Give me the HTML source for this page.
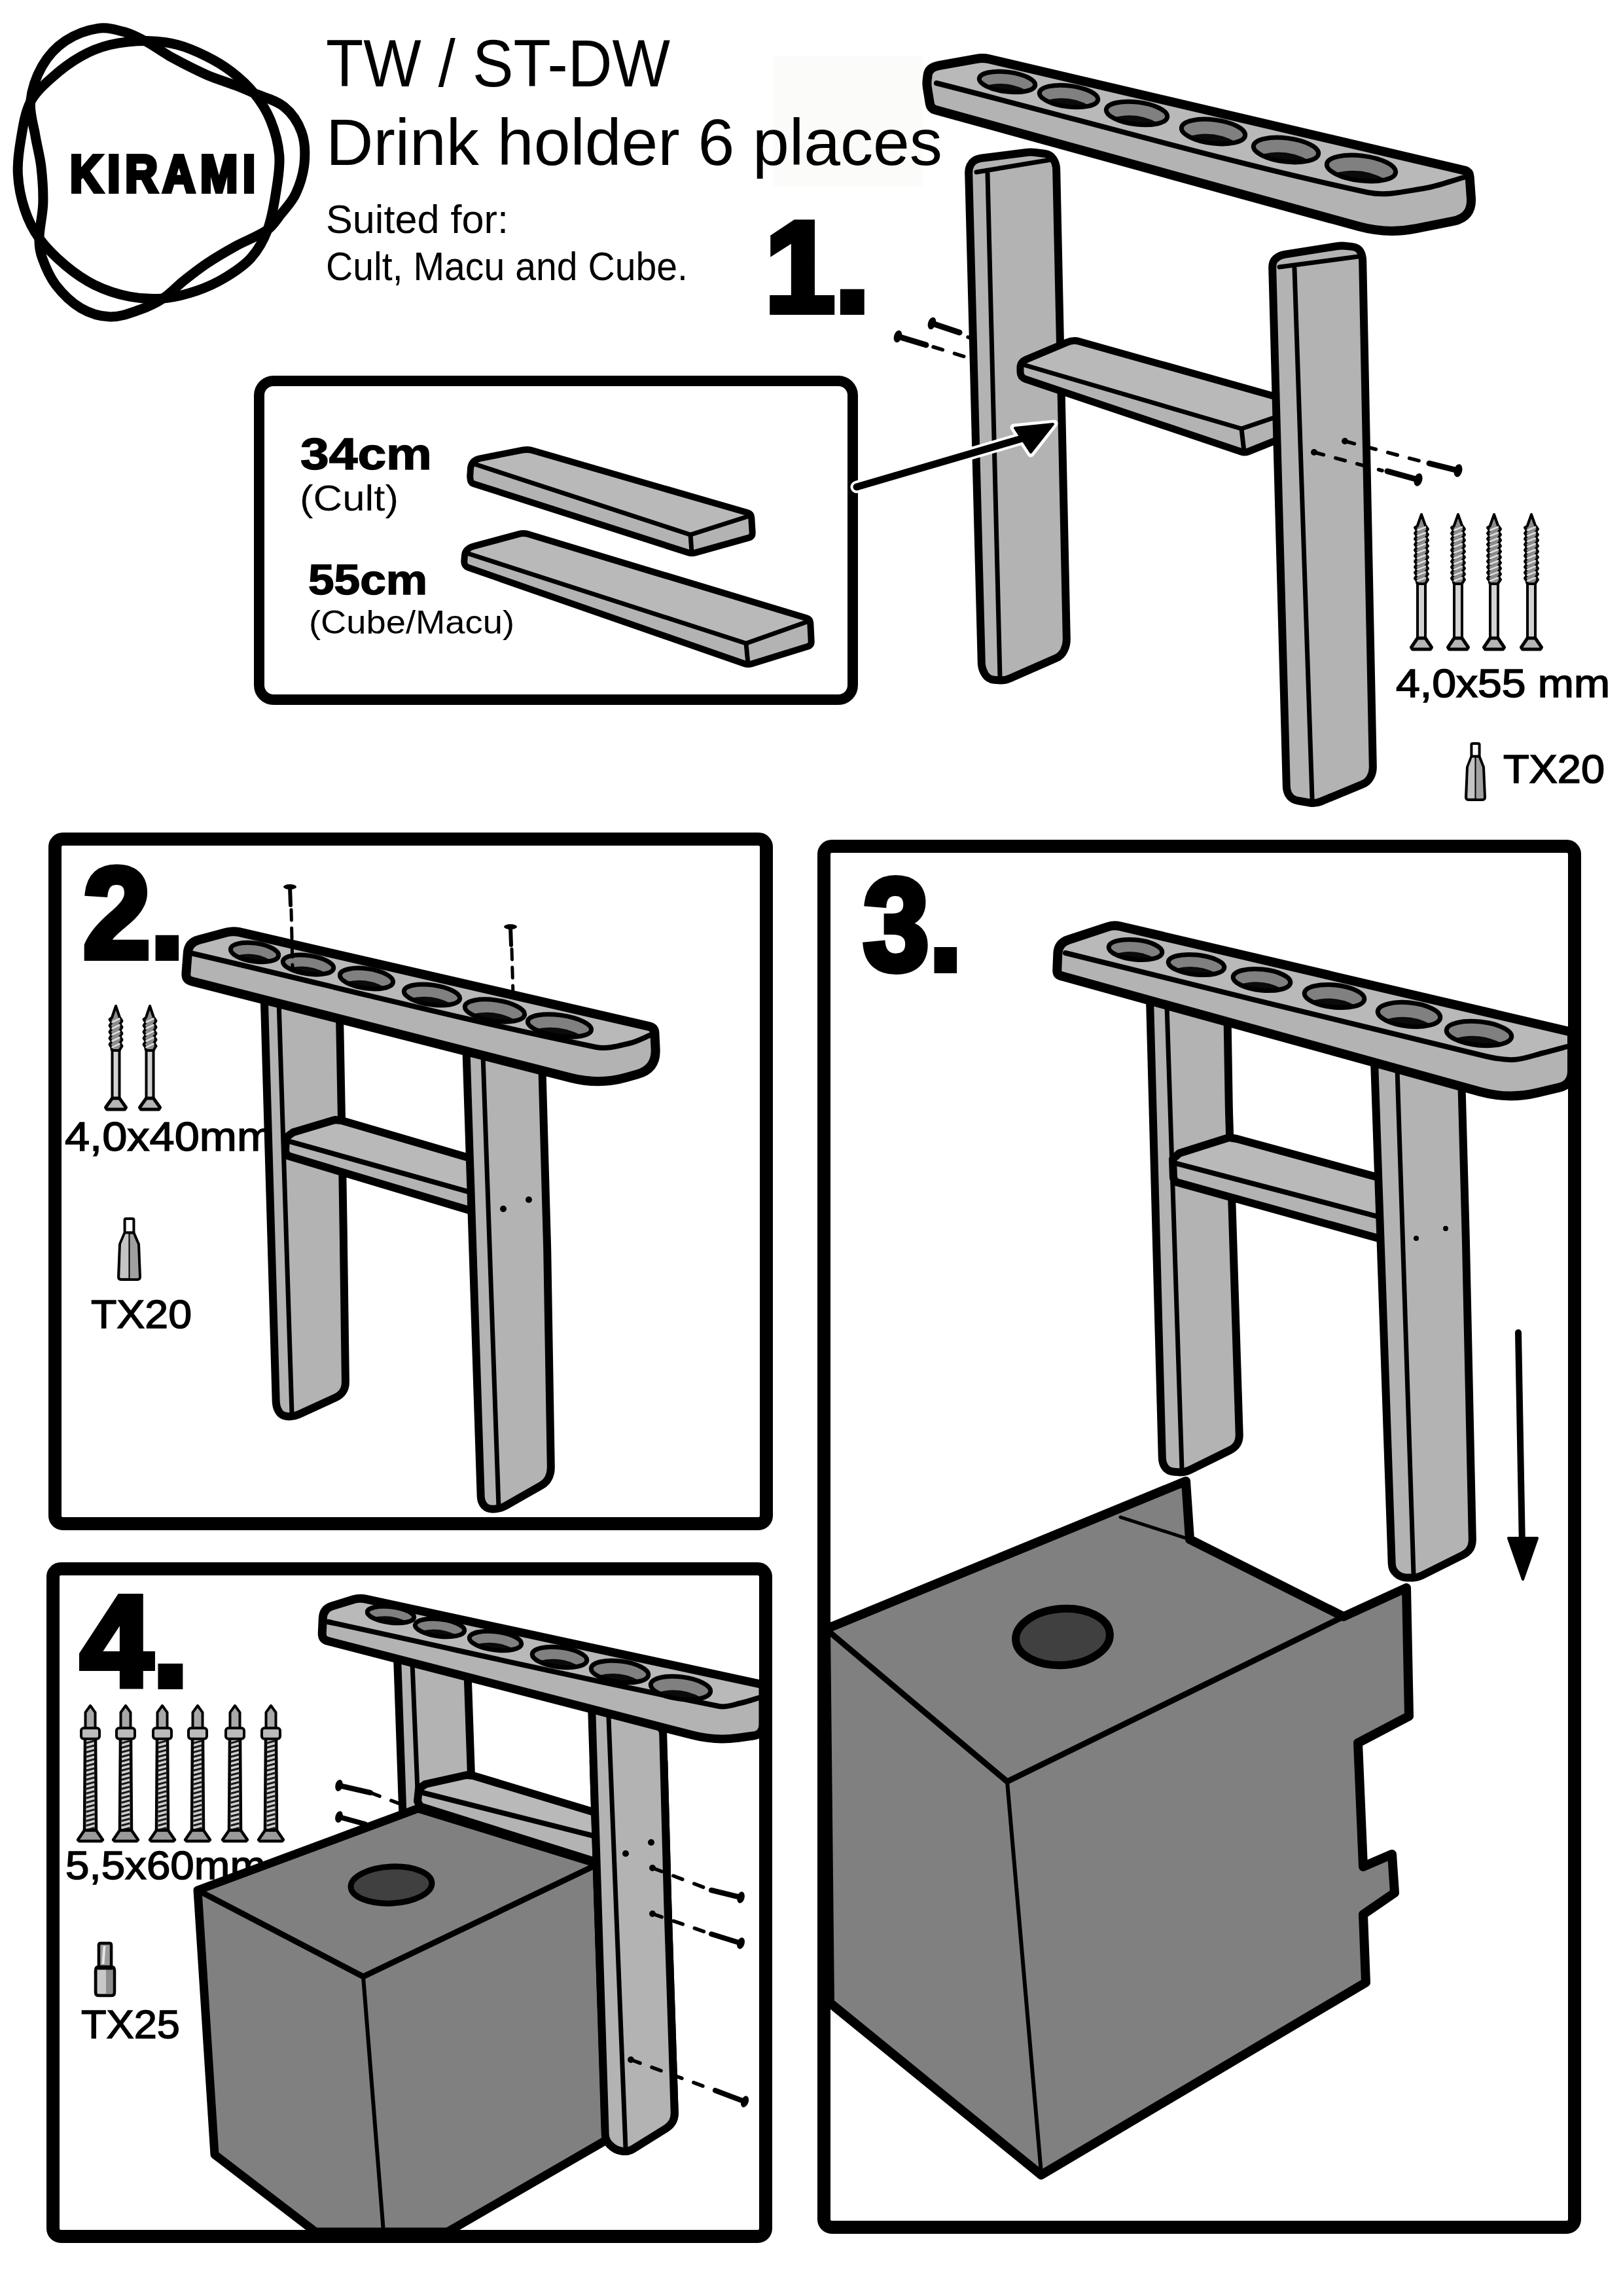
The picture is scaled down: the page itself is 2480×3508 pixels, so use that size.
<!DOCTYPE html>
<html><head><meta charset="utf-8"><style>
html,body{margin:0;padding:0;background:#fff;}
svg{display:block;}
text{fill:#000;}
</style></head><body>
<svg width="2480" height="3508" viewBox="0 0 2480 3508">
<rect width="2480" height="3508" fill="#fff"/>
<rect x="1181" y="85" width="229" height="200" fill="#fbfbf9"/>
<path d="M46.6,155.7 C48.5,136.6 54.9,117.6 64.4,101.0 C73.1,85.8 85.4,72.2 99.9,62.5 C114.8,52.5 132.4,45.9 150.1,43.3 C163.9,41.3 178.1,45.4 191.5,49.2 C203.0,52.4 213.6,58.3 224.1,64.0 C237.3,71.2 249.3,80.5 262.5,87.7 C279.9,97.2 297.6,106.3 315.8,114.3 C330.2,120.6 345.4,124.9 360.1,130.6 C369.6,134.3 378.9,138.3 388.2,142.4 C403.6,149.1 421.1,152.5 434.1,163.1 C446.2,172.9 455.4,186.9 460.7,201.5 C466.1,216.4 466.6,233.1 465.1,248.9 C463.6,265.2 458.7,281.3 451.8,296.2 C446.2,308.4 436.5,318.2 428.2,328.7 C422.1,336.4 416.9,345.3 408.9,350.9 C393.9,361.4 376.1,367.2 360.1,376.1 C345.0,384.5 330.1,393.1 315.8,402.7 C303.5,410.9 291.9,420.1 280.3,429.3 C269.6,437.8 260.6,448.4 249.2,455.9 C237.8,463.4 225.2,469.2 212.3,473.7 C197.9,478.7 183.1,484.5 167.9,484.0 C152.5,483.5 136.8,478.5 123.5,470.7 C108.5,461.8 95.7,449.0 85.1,435.2 C75.7,423.0 69.6,408.3 64.4,393.8 C61.1,384.4 59.7,374.2 59.9,364.2 C60.2,346.4 65.3,328.8 65.8,311.0 C66.3,292.2 65.0,273.4 62.9,254.8 C61.1,238.9 56.6,223.3 54.0,207.5 C51.2,190.3 44.9,173.1 46.6,155.7 Z" fill="none" stroke="#000" stroke-width="15" stroke-linecap="round" stroke-linejoin="round" />
<path d="M46.6,155.7 C54.0,141.0 67.0,129.7 79.2,118.7 C92.8,106.4 107.6,95.2 123.5,86.2 C137.4,78.4 152.4,72.2 167.9,68.5 C186.2,64.2 205.3,62.5 224.1,62.5 C240.0,62.5 256.0,64.5 271.4,68.5 C286.8,72.5 301.5,79.1 315.8,86.2 C329.3,92.9 342.3,100.7 354.2,109.9 C366.6,119.5 378.4,130.2 388.2,142.4 C398.3,155.0 407.3,168.8 413.4,183.8 C420.3,200.7 425.2,218.8 426.7,237.0 C428.2,254.8 425.0,272.7 422.2,290.3 C419.0,310.7 416.1,331.5 408.9,350.9 C403.1,366.4 394.7,381.3 383.8,393.8 C373.1,406.0 359.1,415.0 345.3,423.4 C331.4,431.9 316.4,438.9 301.0,444.1 C284.2,449.8 266.8,454.4 249.2,455.9 C232.0,457.4 214.4,456.3 197.5,453.0 C179.1,449.4 161.0,443.4 144.2,435.2 C128.2,427.4 113.5,417.0 99.9,405.6 C85.2,393.2 71.2,379.7 59.9,364.2 C50.2,350.8 42.9,335.6 37.7,319.9 C32.0,302.7 28.4,284.7 27.4,266.6 C26.4,248.8 28.8,230.9 31.8,213.4 C35.2,193.8 37.7,173.5 46.6,155.7 Z" fill="none" stroke="#000" stroke-width="15" stroke-linecap="round" stroke-linejoin="round" />
<text transform="translate(107,293) scale(0.87,1)" x="0" y="0" font-family="Liberation Sans, sans-serif" font-size="79" font-weight="bold" textLength="325.3" lengthAdjust="spacing" stroke="#000" stroke-width="6" stroke-linejoin="miter">KIRAMI</text>
<text x="498" y="132" font-family="Liberation Sans, sans-serif" font-size="102" font-weight="normal" text-anchor="start" textLength="526" lengthAdjust="spacingAndGlyphs">TW / ST-DW</text>
<text x="498" y="252" font-family="Liberation Sans, sans-serif" font-size="100" font-weight="normal" text-anchor="start" textLength="942" lengthAdjust="spacingAndGlyphs">Drink holder 6 places</text>
<text x="498" y="356" font-family="Liberation Sans, sans-serif" font-size="62" font-weight="normal" text-anchor="start" textLength="279" lengthAdjust="spacingAndGlyphs">Suited for:</text>
<text x="498" y="428" font-family="Liberation Sans, sans-serif" font-size="62" font-weight="normal" text-anchor="start" textLength="553" lengthAdjust="spacingAndGlyphs">Cult, Macu and Cube.</text>
<text x="1169" y="476" font-family="Liberation Sans, sans-serif" font-size="196" font-weight="bold" text-anchor="start" textLength="160" lengthAdjust="spacingAndGlyphs" stroke="#000" stroke-width="10" stroke-linejoin="miter">1.</text>
<rect x="396" y="582" width="907" height="487" rx="22" fill="#fff" stroke="#000" stroke-width="16"/>
<text x="459" y="717" font-family="Liberation Sans, sans-serif" font-size="69" font-weight="bold" text-anchor="start" textLength="201" lengthAdjust="spacingAndGlyphs" stroke="#000" stroke-width="1.5" stroke-linejoin="miter">34cm</text>
<text x="458" y="780" font-family="Liberation Sans, sans-serif" font-size="55" font-weight="normal" text-anchor="start" textLength="151" lengthAdjust="spacingAndGlyphs">(Cult)</text>
<text x="471" y="908" font-family="Liberation Sans, sans-serif" font-size="64" font-weight="bold" text-anchor="start" textLength="182" lengthAdjust="spacingAndGlyphs" stroke="#000" stroke-width="1.5" stroke-linejoin="miter">55cm</text>
<text x="472" y="968" font-family="Liberation Sans, sans-serif" font-size="50" font-weight="normal" text-anchor="start" textLength="314" lengthAdjust="spacingAndGlyphs">(Cube/Macu)</text>
<path d="M718.3,726.0 L719.0,715.9 Q720.0,703.0 733.7,700.3 L798.2,687.6 Q806.0,686.0 813.7,688.2 L1142.2,783.3 Q1148.0,785.0 1148.3,791.0 L1149.7,814.0 Q1150.0,820.0 1144.2,821.6 L1062.8,844.4 Q1057.0,846.0 1051.3,844.2 L723.8,739.2 Q720.0,738.0 719.0,734.2 L719.0,733.8 Q718.0,730.0 718.3,726.0 Z" fill="#b3b3b3" stroke="none" stroke-width="0" stroke-linejoin="round"/>
<path d="M731.8,703.9 L798.2,689.7 Q806.0,688.0 813.7,690.2 L1142.2,784.9 Q1146.0,786.0 1142.2,787.3 L1058.8,815.7 Q1055.0,817.0 1051.2,815.7 L731.5,709.2 Q722.0,706.0 731.8,703.9 Z" fill="#b9b9b9" stroke="none" stroke-width="0" stroke-linejoin="round"/>
<polyline points="722,708 1055,817 1146,788" fill="none" stroke="#000" stroke-width="7" stroke-linecap="round" stroke-linejoin="round" />
<polyline points="1055,817 1057,844" fill="none" stroke="#000" stroke-width="7" stroke-linecap="round" stroke-linejoin="round" />
<path d="M718.3,726.0 L719.0,715.9 Q720.0,703.0 733.7,700.3 L798.2,687.6 Q806.0,686.0 813.7,688.2 L1142.2,783.3 Q1148.0,785.0 1148.3,791.0 L1149.7,814.0 Q1150.0,820.0 1144.2,821.6 L1062.8,844.4 Q1057.0,846.0 1051.3,844.2 L723.8,739.2 Q720.0,738.0 719.0,734.2 L719.0,733.8 Q718.0,730.0 718.3,726.0 Z" fill="none" stroke="#000" stroke-width="10" stroke-linejoin="round"/>
<path d="M709.4,856.0 L710.0,848.5 Q711.0,838.0 724.5,834.4 L792.3,816.1 Q800.0,814.0 807.7,816.3 L1232.3,944.3 Q1238.0,946.0 1238.3,952.0 L1239.7,980.0 Q1240.0,986.0 1234.3,987.8 L1148.7,1014.2 Q1143.0,1016.0 1137.3,1014.0 L715.8,867.3 Q712.0,866.0 710.6,863.1 L710.4,862.9 Q709.0,860.0 709.4,856.0 Z" fill="#b3b3b3" stroke="none" stroke-width="0" stroke-linejoin="round"/>
<path d="M722.6,839.1 L792.3,818.3 Q800.0,816.0 807.7,818.3 L1232.2,945.8 Q1236.0,947.0 1232.3,948.4 L1143.7,981.6 Q1140.0,983.0 1136.2,981.7 L722.5,845.1 Q713.0,842.0 722.6,839.1 Z" fill="#b9b9b9" stroke="none" stroke-width="0" stroke-linejoin="round"/>
<polyline points="713,845 1140,983 1236,949" fill="none" stroke="#000" stroke-width="7" stroke-linecap="round" stroke-linejoin="round" />
<polyline points="1140,983 1143,1014" fill="none" stroke="#000" stroke-width="7" stroke-linecap="round" stroke-linejoin="round" />
<path d="M709.4,856.0 L710.0,848.5 Q711.0,838.0 724.5,834.4 L792.3,816.1 Q800.0,814.0 807.7,816.3 L1232.3,944.3 Q1238.0,946.0 1238.3,952.0 L1239.7,980.0 Q1240.0,986.0 1234.3,987.8 L1148.7,1014.2 Q1143.0,1016.0 1137.3,1014.0 L715.8,867.3 Q712.0,866.0 710.6,863.1 L710.4,862.9 Q709.0,860.0 709.4,856.0 Z" fill="none" stroke="#000" stroke-width="10" stroke-linejoin="round"/>
<path d="M1484.8,249.3 L1485.2,248.7 Q1490.0,243.0 1498.9,241.8 L1566.1,233.2 Q1575.0,232.0 1583.9,233.2 L1596.1,234.8 Q1605.0,236.0 1609.3,242.7 L1609.7,243.3 Q1614.0,250.0 1614.2,259.0 L1629.8,976.0 Q1630.0,985.0 1626.2,993.1 L1625.8,993.9 Q1622.0,1002.0 1613.8,1005.6 L1543.2,1036.4 Q1535.0,1040.0 1526.0,1039.3 L1519.0,1038.7 Q1510.0,1038.0 1505.2,1030.4 L1504.8,1029.6 Q1500.0,1022.0 1499.8,1013.0 L1480.2,264.0 Q1480.0,255.0 1484.8,249.3 Z" fill="#b3b3b3" stroke="none" stroke-width="0" stroke-linejoin="round"/>
<polyline points="1492,263 1606,244" fill="none" stroke="#000" stroke-width="7" stroke-linecap="round" stroke-linejoin="round" />
<polyline points="1509,265 1528,1035" fill="none" stroke="#000" stroke-width="7" stroke-linecap="round" stroke-linejoin="round" />
<path d="M1484.8,249.3 L1485.2,248.7 Q1490.0,243.0 1498.9,241.8 L1566.1,233.2 Q1575.0,232.0 1583.9,233.2 L1596.1,234.8 Q1605.0,236.0 1609.3,242.7 L1609.7,243.3 Q1614.0,250.0 1614.2,259.0 L1629.8,976.0 Q1630.0,985.0 1626.2,993.1 L1625.8,993.9 Q1622.0,1002.0 1613.8,1005.6 L1543.2,1036.4 Q1535.0,1040.0 1526.0,1039.3 L1519.0,1038.7 Q1510.0,1038.0 1505.2,1030.4 L1504.8,1029.6 Q1500.0,1022.0 1499.8,1013.0 L1480.2,264.0 Q1480.0,255.0 1484.8,249.3 Z" fill="none" stroke="#000" stroke-width="12" stroke-linejoin="round"/>
<path d="M1559.0,568.0 L1559.0,562.0 Q1559.0,553.0 1568.2,549.1 L1630.8,522.9 Q1640.0,519.0 1649.6,521.7 L1951.1,606.5 Q1953.0,607.0 1953.1,609.0 L1954.9,669.0 Q1955.0,671.0 1953.1,671.7 L1907.6,689.8 Q1902.0,692.0 1896.3,690.1 L1566.8,579.3 Q1563.0,578.0 1561.1,575.1 L1560.9,574.9 Q1559.0,572.0 1559.0,568.0 Z" fill="#b3b3b3" stroke="none" stroke-width="0" stroke-linejoin="round"/>
<path d="M1566.5,552.6 L1632.7,524.2 Q1640.0,521.0 1647.7,523.2 L1951.1,608.5 Q1953.0,609.0 1953.0,611.0 L1953.0,634.0 Q1953.0,636.0 1951.1,636.6 L1900.8,653.7 Q1897.0,655.0 1893.2,653.9 L1566.8,556.7 Q1561.0,555.0 1566.5,552.6 Z" fill="#b9b9b9" stroke="none" stroke-width="0" stroke-linejoin="round"/>
<polyline points="1563,557 1897,655 1953,636" fill="none" stroke="#000" stroke-width="7" stroke-linecap="round" stroke-linejoin="round" />
<polyline points="1897,655 1901,690" fill="none" stroke="#000" stroke-width="7" stroke-linecap="round" stroke-linejoin="round" />
<path d="M1559.0,568.0 L1559.0,562.0 Q1559.0,553.0 1568.2,549.1 L1630.8,522.9 Q1640.0,519.0 1649.6,521.7 L1951.1,606.5 Q1953.0,607.0 1953.1,609.0 L1954.9,669.0 Q1955.0,671.0 1953.1,671.7 L1907.6,689.8 Q1902.0,692.0 1896.3,690.1 L1566.8,579.3 Q1563.0,578.0 1561.1,575.1 L1560.9,574.9 Q1559.0,572.0 1559.0,568.0 Z" fill="none" stroke="#000" stroke-width="11" stroke-linejoin="round"/>
<polyline points="1309,744 1565,669" fill="none" stroke="#fff" stroke-width="19" stroke-linecap="round" stroke-linejoin="round" />
<polygon points="1611,647 1549,653 1575,693" fill="#fff" stroke="#fff" stroke-width="11" stroke-linejoin="round"/>
<polyline points="1309,744 1565,669" fill="none" stroke="#000" stroke-width="11" stroke-linecap="round" stroke-linejoin="round" />
<polygon points="1609,648 1551,654 1575,691" fill="#000" stroke="#000" stroke-width="4" stroke-linejoin="round"/>
<path d="M1949.2,395.2 L1949.8,394.8 Q1955.0,390.0 1963.9,388.6 L2041.1,376.4 Q2050.0,375.0 2058.9,376.1 L2066.1,376.9 Q2075.0,378.0 2078.3,383.7 L2078.7,384.3 Q2082.0,390.0 2082.2,399.0 L2097.8,1171.0 Q2098.0,1180.0 2094.2,1187.1 L2093.8,1187.9 Q2090.0,1195.0 2081.7,1198.4 L2018.3,1224.6 Q2010.0,1228.0 2001.1,1226.5 L1983.9,1223.5 Q1975.0,1222.0 1970.7,1216.3 L1970.3,1215.7 Q1966.0,1210.0 1965.8,1201.0 L1944.2,409.0 Q1944.0,400.0 1949.2,395.2 Z" fill="#b3b3b3" stroke="none" stroke-width="0" stroke-linejoin="round"/>
<polyline points="1955,408 2075,392" fill="none" stroke="#000" stroke-width="7" stroke-linecap="round" stroke-linejoin="round" />
<polyline points="1978,410 2005,1220" fill="none" stroke="#000" stroke-width="7" stroke-linecap="round" stroke-linejoin="round" />
<path d="M1949.2,395.2 L1949.8,394.8 Q1955.0,390.0 1963.9,388.6 L2041.1,376.4 Q2050.0,375.0 2058.9,376.1 L2066.1,376.9 Q2075.0,378.0 2078.3,383.7 L2078.7,384.3 Q2082.0,390.0 2082.2,399.0 L2097.8,1171.0 Q2098.0,1180.0 2094.2,1187.1 L2093.8,1187.9 Q2090.0,1195.0 2081.7,1198.4 L2018.3,1224.6 Q2010.0,1228.0 2001.1,1226.5 L1983.9,1223.5 Q1975.0,1222.0 1970.7,1216.3 L1970.3,1215.7 Q1966.0,1210.0 1965.8,1201.0 L1944.2,409.0 Q1944.0,400.0 1949.2,395.2 Z" fill="none" stroke="#000" stroke-width="12" stroke-linejoin="round"/>
<path d="M1416.7,122.0 L1417.6,114.9 Q1419.0,103.0 1434.7,100.2 L1492.2,89.8 Q1502.0,88.0 1511.7,90.3 L2237.2,260.2 Q2245.0,262.0 2245.6,270.0 L2247.9,302.1 Q2250.0,332.0 2220.6,337.9 L2164.1,349.2 Q2120.0,358.0 2076.6,346.1 L1429.7,168.1 Q1422.0,166.0 1420.8,158.1 L1416.9,133.9 Q1416.0,128.0 1416.7,122.0 Z" fill="#b3b3b3" stroke="none" stroke-width="0" stroke-linejoin="round"/>
<path d="M1426.8,106.3 L1492.2,92.1 Q1502.0,90.0 1511.7,92.3 L2241.1,262.1 Q2245.0,263.0 2242.3,266.0 L2239.7,269.0 Q2237.0,272.0 2233.1,272.9 L2190.4,283.3 Q2171.0,288.0 2151.1,289.5 L2109.9,292.5 Q2090.0,294.0 2070.6,289.1 L1434.9,128.0 Q1431.0,127.0 1428.9,123.6 L1423.3,114.8 Q1419.0,108.0 1426.8,106.3 Z" fill="#b9b9b9" stroke="none" stroke-width="0" stroke-linejoin="round"/>
<path d="M1431,127 C1650.7,182.7 1868.5,246.1 2090,294 C2117.8,300.0 2146.9,292.4 2175,288 C2196.2,284.7 2216.3,276.7 2237,271 " fill="none" stroke="#000" stroke-width="8" stroke-linecap="round"/>
<path d="M1416.7,122.0 L1417.6,114.9 Q1419.0,103.0 1434.7,100.2 L1492.2,89.8 Q1502.0,88.0 1511.7,90.3 L2237.2,260.2 Q2245.0,262.0 2245.6,270.0 L2247.9,302.1 Q2250.0,332.0 2220.6,337.9 L2164.1,349.2 Q2120.0,358.0 2076.6,346.1 L1429.7,168.1 Q1422.0,166.0 1420.8,158.1 L1416.9,133.9 Q1416.0,128.0 1416.7,122.0 Z" fill="none" stroke="#000" stroke-width="14" stroke-linejoin="round"/>
<g transform="translate(1539,125) rotate(7)"><ellipse cx="0" cy="0" rx="43" ry="15" fill="#808080"/><path d="M-32.2,9.9 A43 15 0 0 0 32.2,9.9 Q0,-3.0 -32.2,9.9Z" fill="#0a0a0a"/><ellipse cx="0" cy="0" rx="43" ry="15" fill="none" stroke="#000" stroke-width="7"/></g>
<g transform="translate(1633,147) rotate(7)"><ellipse cx="0" cy="0" rx="45" ry="16" fill="#808080"/><path d="M-33.8,10.6 A45 16 0 0 0 33.8,10.6 Q0,-3.2 -33.8,10.6Z" fill="#0a0a0a"/><ellipse cx="0" cy="0" rx="45" ry="16" fill="none" stroke="#000" stroke-width="7"/></g>
<g transform="translate(1737,173) rotate(7)"><ellipse cx="0" cy="0" rx="47" ry="17" fill="#808080"/><path d="M-35.2,11.2 A47 17 0 0 0 35.2,11.2 Q0,-3.4 -35.2,11.2Z" fill="#0a0a0a"/><ellipse cx="0" cy="0" rx="47" ry="17" fill="none" stroke="#000" stroke-width="7"/></g>
<g transform="translate(1854,201) rotate(7)"><ellipse cx="0" cy="0" rx="49" ry="18" fill="#808080"/><path d="M-36.8,11.9 A49 18 0 0 0 36.8,11.9 Q0,-3.6 -36.8,11.9Z" fill="#0a0a0a"/><ellipse cx="0" cy="0" rx="49" ry="18" fill="none" stroke="#000" stroke-width="7"/></g>
<g transform="translate(1965,229) rotate(7)"><ellipse cx="0" cy="0" rx="50" ry="18" fill="#808080"/><path d="M-37.5,11.9 A50 18 0 0 0 37.5,11.9 Q0,-3.6 -37.5,11.9Z" fill="#0a0a0a"/><ellipse cx="0" cy="0" rx="50" ry="18" fill="none" stroke="#000" stroke-width="7"/></g>
<g transform="translate(2080,257) rotate(7)"><ellipse cx="0" cy="0" rx="53" ry="19" fill="#808080"/><path d="M-39.8,12.6 A53 19 0 0 0 39.8,12.6 Q0,-3.8 -39.8,12.6Z" fill="#0a0a0a"/><ellipse cx="0" cy="0" rx="53" ry="19" fill="none" stroke="#000" stroke-width="7"/></g>
<polyline points="1426,530 1484,548" fill="none" stroke="#000" stroke-width="5.5" stroke-dasharray="15 19" stroke-linecap="round"/>
<polyline points="1479,515 1486,518" fill="none" stroke="#000" stroke-width="5.5" stroke-dasharray="15 19" stroke-linecap="round"/>
<line x1="1415" y1="527" x2="1372" y2="514" stroke="#000" stroke-width="9" stroke-linecap="round"/>
<ellipse cx="1372" cy="514" rx="5.9" ry="9.5" transform="rotate(-163.2 1372 514)" fill="#000"/>
<line x1="1466" y1="508" x2="1424" y2="494" stroke="#000" stroke-width="9" stroke-linecap="round"/>
<ellipse cx="1424" cy="494" rx="5.9" ry="9.5" transform="rotate(-161.6 1424 494)" fill="#000"/>
<circle cx="2008" cy="691" r="5" fill="#000"/>
<circle cx="2055" cy="674" r="5" fill="#000"/>
<polyline points="2008,691 2112,719" fill="none" stroke="#000" stroke-width="5.5" stroke-dasharray="15 19" stroke-linecap="round"/>
<polyline points="2055,674 2176,706" fill="none" stroke="#000" stroke-width="5.5" stroke-dasharray="15 19" stroke-linecap="round"/>
<line x1="2120" y1="720" x2="2167" y2="733" stroke="#000" stroke-width="9" stroke-linecap="round"/>
<ellipse cx="2167" cy="733" rx="6.2" ry="10" transform="rotate(15.5 2167 733)" fill="#000"/>
<line x1="2184" y1="708" x2="2228" y2="719" stroke="#000" stroke-width="9" stroke-linecap="round"/>
<ellipse cx="2228" cy="719" rx="6.2" ry="10" transform="rotate(14.0 2228 719)" fill="#000"/>
<g><rect x="2166.0" y="886" width="12" height="91" fill="#d2d2d2" stroke="#000" stroke-width="4"/><path d="M2172,786 L2178.4,804 L2179.0,804.0 L2182.0,808.3 L2179.0,812.6 L2182.0,816.9 L2179.0,821.2 L2182.0,825.5 L2179.0,829.8 L2182.0,834.1 L2179.0,838.4 L2182.0,842.7 L2179.0,847.0 L2182.0,851.3 L2179.0,855.6 L2182.0,859.9 L2179.0,864.2 L2182.0,868.5 L2179.0,872.8 L2182.0,877.1 L2179.0,881.4 L2182.0,885.7 L2179.0,890 L2178.0,892 L2166.0,892 L2165.0,890 L2165.0,887.9 L2162.0,883.5 L2165.0,879.2 L2162.0,874.9 L2165.0,870.7 L2162.0,866.4 L2165.0,862.1 L2162.0,857.8 L2165.0,853.5 L2162.0,849.1 L2165.0,844.9 L2162.0,840.5 L2165.0,836.2 L2162.0,831.9 L2165.0,827.7 L2162.0,823.4 L2165.0,819.1 L2162.0,814.8 L2165.0,810.5 L2162.0,806.1 L2165.6,804 Z" fill="#8c8c8c" stroke="#000" stroke-width="4" stroke-linejoin="round"/><line x1="2165.0" y1="810.5" x2="2179.0" y2="804.9" stroke="#e0e0e0" stroke-width="2.5"/><line x1="2165.0" y1="819.1" x2="2179.0" y2="813.5" stroke="#e0e0e0" stroke-width="2.5"/><line x1="2165.0" y1="827.7" x2="2179.0" y2="822.1" stroke="#e0e0e0" stroke-width="2.5"/><line x1="2165.0" y1="836.2" x2="2179.0" y2="830.7" stroke="#e0e0e0" stroke-width="2.5"/><line x1="2165.0" y1="844.9" x2="2179.0" y2="839.3" stroke="#e0e0e0" stroke-width="2.5"/><line x1="2165.0" y1="853.5" x2="2179.0" y2="847.9" stroke="#e0e0e0" stroke-width="2.5"/><line x1="2165.0" y1="862.1" x2="2179.0" y2="856.5" stroke="#e0e0e0" stroke-width="2.5"/><line x1="2165.0" y1="870.7" x2="2179.0" y2="865.1" stroke="#e0e0e0" stroke-width="2.5"/><line x1="2165.0" y1="879.2" x2="2179.0" y2="873.7" stroke="#e0e0e0" stroke-width="2.5"/><line x1="2165.0" y1="887.9" x2="2179.0" y2="882.3" stroke="#e0e0e0" stroke-width="2.5"/><path d="M2166.0,975 L2178.0,975 L2187.5,989 L2185.5,992 L2158.5,992 L2156.5,989 Z" fill="#b5b5b5" stroke="#000" stroke-width="5" stroke-linejoin="round"/></g>
<g><rect x="2222.0" y="886" width="12" height="91" fill="#d2d2d2" stroke="#000" stroke-width="4"/><path d="M2228,786 L2234.4,804 L2235.0,804.0 L2238.0,808.3 L2235.0,812.6 L2238.0,816.9 L2235.0,821.2 L2238.0,825.5 L2235.0,829.8 L2238.0,834.1 L2235.0,838.4 L2238.0,842.7 L2235.0,847.0 L2238.0,851.3 L2235.0,855.6 L2238.0,859.9 L2235.0,864.2 L2238.0,868.5 L2235.0,872.8 L2238.0,877.1 L2235.0,881.4 L2238.0,885.7 L2235.0,890 L2234.0,892 L2222.0,892 L2221.0,890 L2221.0,887.9 L2218.0,883.5 L2221.0,879.2 L2218.0,874.9 L2221.0,870.7 L2218.0,866.4 L2221.0,862.1 L2218.0,857.8 L2221.0,853.5 L2218.0,849.1 L2221.0,844.9 L2218.0,840.5 L2221.0,836.2 L2218.0,831.9 L2221.0,827.7 L2218.0,823.4 L2221.0,819.1 L2218.0,814.8 L2221.0,810.5 L2218.0,806.1 L2221.6,804 Z" fill="#8c8c8c" stroke="#000" stroke-width="4" stroke-linejoin="round"/><line x1="2221.0" y1="810.5" x2="2235.0" y2="804.9" stroke="#e0e0e0" stroke-width="2.5"/><line x1="2221.0" y1="819.1" x2="2235.0" y2="813.5" stroke="#e0e0e0" stroke-width="2.5"/><line x1="2221.0" y1="827.7" x2="2235.0" y2="822.1" stroke="#e0e0e0" stroke-width="2.5"/><line x1="2221.0" y1="836.2" x2="2235.0" y2="830.7" stroke="#e0e0e0" stroke-width="2.5"/><line x1="2221.0" y1="844.9" x2="2235.0" y2="839.3" stroke="#e0e0e0" stroke-width="2.5"/><line x1="2221.0" y1="853.5" x2="2235.0" y2="847.9" stroke="#e0e0e0" stroke-width="2.5"/><line x1="2221.0" y1="862.1" x2="2235.0" y2="856.5" stroke="#e0e0e0" stroke-width="2.5"/><line x1="2221.0" y1="870.7" x2="2235.0" y2="865.1" stroke="#e0e0e0" stroke-width="2.5"/><line x1="2221.0" y1="879.2" x2="2235.0" y2="873.7" stroke="#e0e0e0" stroke-width="2.5"/><line x1="2221.0" y1="887.9" x2="2235.0" y2="882.3" stroke="#e0e0e0" stroke-width="2.5"/><path d="M2222.0,975 L2234.0,975 L2243.5,989 L2241.5,992 L2214.5,992 L2212.5,989 Z" fill="#b5b5b5" stroke="#000" stroke-width="5" stroke-linejoin="round"/></g>
<g><rect x="2277.0" y="886" width="12" height="91" fill="#d2d2d2" stroke="#000" stroke-width="4"/><path d="M2283,786 L2289.4,804 L2290.0,804.0 L2293.0,808.3 L2290.0,812.6 L2293.0,816.9 L2290.0,821.2 L2293.0,825.5 L2290.0,829.8 L2293.0,834.1 L2290.0,838.4 L2293.0,842.7 L2290.0,847.0 L2293.0,851.3 L2290.0,855.6 L2293.0,859.9 L2290.0,864.2 L2293.0,868.5 L2290.0,872.8 L2293.0,877.1 L2290.0,881.4 L2293.0,885.7 L2290.0,890 L2289.0,892 L2277.0,892 L2276.0,890 L2276.0,887.9 L2273.0,883.5 L2276.0,879.2 L2273.0,874.9 L2276.0,870.7 L2273.0,866.4 L2276.0,862.1 L2273.0,857.8 L2276.0,853.5 L2273.0,849.1 L2276.0,844.9 L2273.0,840.5 L2276.0,836.2 L2273.0,831.9 L2276.0,827.7 L2273.0,823.4 L2276.0,819.1 L2273.0,814.8 L2276.0,810.5 L2273.0,806.1 L2276.6,804 Z" fill="#8c8c8c" stroke="#000" stroke-width="4" stroke-linejoin="round"/><line x1="2276.0" y1="810.5" x2="2290.0" y2="804.9" stroke="#e0e0e0" stroke-width="2.5"/><line x1="2276.0" y1="819.1" x2="2290.0" y2="813.5" stroke="#e0e0e0" stroke-width="2.5"/><line x1="2276.0" y1="827.7" x2="2290.0" y2="822.1" stroke="#e0e0e0" stroke-width="2.5"/><line x1="2276.0" y1="836.2" x2="2290.0" y2="830.7" stroke="#e0e0e0" stroke-width="2.5"/><line x1="2276.0" y1="844.9" x2="2290.0" y2="839.3" stroke="#e0e0e0" stroke-width="2.5"/><line x1="2276.0" y1="853.5" x2="2290.0" y2="847.9" stroke="#e0e0e0" stroke-width="2.5"/><line x1="2276.0" y1="862.1" x2="2290.0" y2="856.5" stroke="#e0e0e0" stroke-width="2.5"/><line x1="2276.0" y1="870.7" x2="2290.0" y2="865.1" stroke="#e0e0e0" stroke-width="2.5"/><line x1="2276.0" y1="879.2" x2="2290.0" y2="873.7" stroke="#e0e0e0" stroke-width="2.5"/><line x1="2276.0" y1="887.9" x2="2290.0" y2="882.3" stroke="#e0e0e0" stroke-width="2.5"/><path d="M2277.0,975 L2289.0,975 L2298.5,989 L2296.5,992 L2269.5,992 L2267.5,989 Z" fill="#b5b5b5" stroke="#000" stroke-width="5" stroke-linejoin="round"/></g>
<g><rect x="2334.0" y="886" width="12" height="91" fill="#d2d2d2" stroke="#000" stroke-width="4"/><path d="M2340,786 L2346.4,804 L2347.0,804.0 L2350.0,808.3 L2347.0,812.6 L2350.0,816.9 L2347.0,821.2 L2350.0,825.5 L2347.0,829.8 L2350.0,834.1 L2347.0,838.4 L2350.0,842.7 L2347.0,847.0 L2350.0,851.3 L2347.0,855.6 L2350.0,859.9 L2347.0,864.2 L2350.0,868.5 L2347.0,872.8 L2350.0,877.1 L2347.0,881.4 L2350.0,885.7 L2347.0,890 L2346.0,892 L2334.0,892 L2333.0,890 L2333.0,887.9 L2330.0,883.5 L2333.0,879.2 L2330.0,874.9 L2333.0,870.7 L2330.0,866.4 L2333.0,862.1 L2330.0,857.8 L2333.0,853.5 L2330.0,849.1 L2333.0,844.9 L2330.0,840.5 L2333.0,836.2 L2330.0,831.9 L2333.0,827.7 L2330.0,823.4 L2333.0,819.1 L2330.0,814.8 L2333.0,810.5 L2330.0,806.1 L2333.6,804 Z" fill="#8c8c8c" stroke="#000" stroke-width="4" stroke-linejoin="round"/><line x1="2333.0" y1="810.5" x2="2347.0" y2="804.9" stroke="#e0e0e0" stroke-width="2.5"/><line x1="2333.0" y1="819.1" x2="2347.0" y2="813.5" stroke="#e0e0e0" stroke-width="2.5"/><line x1="2333.0" y1="827.7" x2="2347.0" y2="822.1" stroke="#e0e0e0" stroke-width="2.5"/><line x1="2333.0" y1="836.2" x2="2347.0" y2="830.7" stroke="#e0e0e0" stroke-width="2.5"/><line x1="2333.0" y1="844.9" x2="2347.0" y2="839.3" stroke="#e0e0e0" stroke-width="2.5"/><line x1="2333.0" y1="853.5" x2="2347.0" y2="847.9" stroke="#e0e0e0" stroke-width="2.5"/><line x1="2333.0" y1="862.1" x2="2347.0" y2="856.5" stroke="#e0e0e0" stroke-width="2.5"/><line x1="2333.0" y1="870.7" x2="2347.0" y2="865.1" stroke="#e0e0e0" stroke-width="2.5"/><line x1="2333.0" y1="879.2" x2="2347.0" y2="873.7" stroke="#e0e0e0" stroke-width="2.5"/><line x1="2333.0" y1="887.9" x2="2347.0" y2="882.3" stroke="#e0e0e0" stroke-width="2.5"/><path d="M2334.0,975 L2346.0,975 L2355.5,989 L2353.5,992 L2326.5,992 L2324.5,989 Z" fill="#b5b5b5" stroke="#000" stroke-width="5" stroke-linejoin="round"/></g>
<text x="2133" y="1065" font-family="Liberation Sans, sans-serif" font-size="61" font-weight="normal" text-anchor="start" textLength="327" lengthAdjust="spacingAndGlyphs" stroke="#000" stroke-width="1.6" stroke-linejoin="miter">4,0x55 mm</text>
<g><rect x="2248.41" y="1136" width="12.18" height="19.78" fill="#fff" stroke="#000" stroke-width="4" rx="2"/><path d="M2248.41,1155.78 L2242,1172.12 L2240,1218 Q2240,1222 2245,1222 L2264,1222 Q2269,1222 2269,1218 L2267,1172.12 L2260.59,1155.78 Z" fill="#a0a0a0" stroke="#000" stroke-width="4" stroke-linejoin="round"/><path d="M2249.41,1157.78 L2244,1172.12 L2243,1219 L2253.5,1219 L2253.5,1157.78Z" fill="#c4c4c4"/><line x1="2254.5" y1="1155.78" x2="2254.5" y2="1222" stroke="#000" stroke-width="2"/></g>
<text x="2297" y="1196" font-family="Liberation Sans, sans-serif" font-size="61" font-weight="normal" text-anchor="start" textLength="155" lengthAdjust="spacingAndGlyphs" stroke="#000" stroke-width="1.6" stroke-linejoin="miter">TX20</text>
<rect x="82" y="1283" width="1088" height="1056" rx="8" fill="#fff" stroke="none"/>
<text x="127" y="1463" font-family="Liberation Sans, sans-serif" font-size="196" font-weight="bold" text-anchor="start" textLength="154" lengthAdjust="spacingAndGlyphs" stroke="#000" stroke-width="10" stroke-linejoin="miter">2.</text>
<text x="99" y="1758" font-family="Liberation Sans, sans-serif" font-size="63" font-weight="normal" text-anchor="start" textLength="320" lengthAdjust="spacingAndGlyphs" stroke="#000" stroke-width="1.5" stroke-linejoin="miter">4,0x40mm</text>
<path d="M412.0,1500.0 L509.0,1500.0 Q518.0,1500.0 518.2,1509.0 L521.8,1700.0 Q522.0,1709.0 522.1,1718.0 L524.9,1891.0 Q525.0,1900.0 525.1,1909.0 L527.9,2111.0 Q528.0,2120.0 524.2,2125.7 L523.8,2126.3 Q520.0,2132.0 511.8,2135.7 L456.2,2161.3 Q448.0,2165.0 439.4,2164.0 L438.6,2164.0 Q430.0,2163.0 426.2,2156.8 L425.8,2156.2 Q422.0,2150.0 421.7,2141.0 L403.3,1509.0 Q403.0,1500.0 412.0,1500.0 Z" fill="#b3b3b3" stroke="none" stroke-width="0" stroke-linejoin="round"/>
<polyline points="403,1500 403,1500" fill="none" stroke="#000" stroke-width="7" stroke-linecap="round" stroke-linejoin="round" />
<polyline points="426,1528 446,2160" fill="none" stroke="#000" stroke-width="7" stroke-linecap="round" stroke-linejoin="round" />
<path d="M412.0,1500.0 L509.0,1500.0 Q518.0,1500.0 518.2,1509.0 L521.8,1700.0 Q522.0,1709.0 522.1,1718.0 L524.9,1891.0 Q525.0,1900.0 525.1,1909.0 L527.9,2111.0 Q528.0,2120.0 524.2,2125.7 L523.8,2126.3 Q520.0,2132.0 511.8,2135.7 L456.2,2161.3 Q448.0,2165.0 439.4,2164.0 L438.6,2164.0 Q430.0,2163.0 426.2,2156.8 L425.8,2156.2 Q422.0,2150.0 421.7,2141.0 L403.3,1509.0 Q403.0,1500.0 412.0,1500.0 Z" fill="none" stroke="#000" stroke-width="12" stroke-linejoin="round"/>
<polygon points="437,1738 448,1730 512,1711 522,1712 720,1770 720,1850 440,1766 436,1760" fill="#b3b3b3" stroke="none" stroke-width="0" stroke-linejoin="round" />
<polygon points="439,1740 514,1712 720,1771 720,1822" fill="#b9b9b9" stroke="none" stroke-width="0" stroke-linejoin="round" />
<polyline points="439,1743 720,1822" fill="none" stroke="#000" stroke-width="8" stroke-linecap="round" stroke-linejoin="round" />
<polygon points="437,1738 448,1730 512,1711 522,1712 720,1770 720,1850 440,1766 436,1760" fill="none" stroke="#000" stroke-width="12" stroke-linejoin="round" />
<path d="M720.7,1592.3 L819.3,1617.7 Q828.0,1620.0 828.3,1629.0 L835.7,1891.0 Q836.0,1900.0 836.2,1909.0 L841.8,2241.0 Q842.0,2250.0 838.7,2257.1 L838.3,2257.9 Q835.0,2265.0 827.2,2269.5 L772.8,2300.5 Q765.0,2305.0 756.0,2305.4 L754.0,2305.6 Q745.0,2306.0 740.2,2300.8 L739.8,2300.2 Q735.0,2295.0 734.7,2286.0 L712.3,1599.0 Q712.0,1590.0 720.7,1592.3 Z" fill="#b3b3b3" stroke="none" stroke-width="0" stroke-linejoin="round"/>
<polyline points="712,1590 712,1590" fill="none" stroke="#000" stroke-width="7" stroke-linecap="round" stroke-linejoin="round" />
<polyline points="738,1612 762,2304" fill="none" stroke="#000" stroke-width="7" stroke-linecap="round" stroke-linejoin="round" />
<path d="M720.7,1592.3 L819.3,1617.7 Q828.0,1620.0 828.3,1629.0 L835.7,1891.0 Q836.0,1900.0 836.2,1909.0 L841.8,2241.0 Q842.0,2250.0 838.7,2257.1 L838.3,2257.9 Q835.0,2265.0 827.2,2269.5 L772.8,2300.5 Q765.0,2305.0 756.0,2305.4 L754.0,2305.6 Q745.0,2306.0 740.2,2300.8 L739.8,2300.2 Q735.0,2295.0 734.7,2286.0 L712.3,1599.0 Q712.0,1590.0 720.7,1592.3 Z" fill="none" stroke="#000" stroke-width="12" stroke-linejoin="round"/>
<path d="M284.5,1486.0 L286.8,1456.0 Q288.0,1440.0 303.5,1435.9 L346.3,1424.6 Q356.0,1422.0 365.7,1424.2 L992.2,1568.2 Q1000.0,1570.0 1000.4,1578.0 L1001.6,1603.0 Q1003.0,1633.0 974.2,1641.3 L957.4,1646.1 Q916.0,1658.0 872.4,1646.9 L293.8,1499.5 Q288.0,1498.0 286.1,1495.1 L285.9,1494.9 Q284.0,1492.0 284.5,1486.0 Z" fill="#b3b3b3" stroke="none" stroke-width="0" stroke-linejoin="round"/>
<path d="M297.7,1439.0 L346.3,1426.5 Q356.0,1424.0 365.7,1426.2 L996.1,1571.1 Q1000.0,1572.0 997.9,1575.4 L997.1,1576.6 Q995.0,1580.0 991.3,1581.6 L973.8,1589.1 Q960.0,1595.0 945.1,1596.5 L925.9,1598.5 Q911.0,1600.0 896.4,1596.6 L298.9,1457.9 Q295.0,1457.0 293.8,1453.2 L292.4,1448.6 Q290.0,1441.0 297.7,1439.0 Z" fill="#b9b9b9" stroke="none" stroke-width="0" stroke-linejoin="round"/>
<path d="M295,1457 C500.3,1504.7 704.5,1557.6 911,1600 C927.8,1603.4 945.3,1597.9 962,1594 C974.2,1591.2 985.3,1584.7 997,1580 " fill="none" stroke="#000" stroke-width="8" stroke-linecap="round"/>
<path d="M284.5,1486.0 L286.8,1456.0 Q288.0,1440.0 303.5,1435.9 L346.3,1424.6 Q356.0,1422.0 365.7,1424.2 L992.2,1568.2 Q1000.0,1570.0 1000.4,1578.0 L1001.6,1603.0 Q1003.0,1633.0 974.2,1641.3 L957.4,1646.1 Q916.0,1658.0 872.4,1646.9 L293.8,1499.5 Q288.0,1498.0 286.1,1495.1 L285.9,1494.9 Q284.0,1492.0 284.5,1486.0 Z" fill="none" stroke="#000" stroke-width="14" stroke-linejoin="round"/>
<g transform="translate(389,1455) rotate(8)"><ellipse cx="0" cy="0" rx="37" ry="14" fill="#808080"/><path d="M-27.8,9.3 A37 14 0 0 0 27.8,9.3 Q0,-2.8 -27.8,9.3Z" fill="#0a0a0a"/><ellipse cx="0" cy="0" rx="37" ry="14" fill="none" stroke="#000" stroke-width="7"/></g>
<g transform="translate(471,1474) rotate(8)"><ellipse cx="0" cy="0" rx="39" ry="14" fill="#808080"/><path d="M-29.2,9.3 A39 14 0 0 0 29.2,9.3 Q0,-2.8 -29.2,9.3Z" fill="#0a0a0a"/><ellipse cx="0" cy="0" rx="39" ry="14" fill="none" stroke="#000" stroke-width="7"/></g>
<g transform="translate(560,1495) rotate(8)"><ellipse cx="0" cy="0" rx="41" ry="15" fill="#808080"/><path d="M-30.8,9.9 A41 15 0 0 0 30.8,9.9 Q0,-3.0 -30.8,9.9Z" fill="#0a0a0a"/><ellipse cx="0" cy="0" rx="41" ry="15" fill="none" stroke="#000" stroke-width="7"/></g>
<g transform="translate(660,1520) rotate(8)"><ellipse cx="0" cy="0" rx="43" ry="15" fill="#808080"/><path d="M-32.2,9.9 A43 15 0 0 0 32.2,9.9 Q0,-3.0 -32.2,9.9Z" fill="#0a0a0a"/><ellipse cx="0" cy="0" rx="43" ry="15" fill="none" stroke="#000" stroke-width="7"/></g>
<g transform="translate(756,1544) rotate(8)"><ellipse cx="0" cy="0" rx="46" ry="16" fill="#808080"/><path d="M-34.5,10.6 A46 16 0 0 0 34.5,10.6 Q0,-3.2 -34.5,10.6Z" fill="#0a0a0a"/><ellipse cx="0" cy="0" rx="46" ry="16" fill="none" stroke="#000" stroke-width="7"/></g>
<g transform="translate(855,1567) rotate(8)"><ellipse cx="0" cy="0" rx="49" ry="16" fill="#808080"/><path d="M-36.8,10.6 A49 16 0 0 0 36.8,10.6 Q0,-3.2 -36.8,10.6Z" fill="#0a0a0a"/><ellipse cx="0" cy="0" rx="49" ry="16" fill="none" stroke="#000" stroke-width="7"/></g>
<line x1="443" y1="1355" x2="444" y2="1383" stroke="#000" stroke-width="6" stroke-linecap="round"/>
<ellipse cx="443" cy="1355" rx="10" ry="4" fill="#000"/>
<polyline points="445,1390 447,1478" fill="none" stroke="#000" stroke-width="5" stroke-dasharray="16 12" stroke-linecap="round"/>
<line x1="780" y1="1416" x2="781" y2="1444" stroke="#000" stroke-width="6" stroke-linecap="round"/>
<ellipse cx="780" cy="1416" rx="10" ry="4" fill="#000"/>
<polyline points="782,1450 784,1520" fill="none" stroke="#000" stroke-width="5" stroke-dasharray="16 12" stroke-linecap="round"/>
<circle cx="769" cy="1847" r="5" fill="#000"/>
<circle cx="808" cy="1833" r="5" fill="#000"/>
<g><rect x="171.5" y="1599" width="11" height="81" fill="#d2d2d2" stroke="#000" stroke-width="4"/><path d="M177,1537 L183.08,1555 L183.5,1555.0 L186.5,1559.8 L183.5,1564.6 L186.5,1569.4 L183.5,1574.2 L186.5,1579.0 L183.5,1583.8 L186.5,1588.6 L183.5,1593.4 L186.5,1598.2 L183.5,1603 L182.5,1605 L171.5,1605 L170.5,1603 L170.5,1600.6 L167.5,1595.8 L170.5,1591.0 L167.5,1586.2 L170.5,1581.4 L167.5,1576.6 L170.5,1571.8 L167.5,1567.0 L170.5,1562.2 L167.5,1557.4 L170.92,1555 Z" fill="#8c8c8c" stroke="#000" stroke-width="4" stroke-linejoin="round"/><line x1="170.5" y1="1562.2" x2="183.5" y2="1556.0" stroke="#e0e0e0" stroke-width="2.5"/><line x1="170.5" y1="1571.8" x2="183.5" y2="1565.6" stroke="#e0e0e0" stroke-width="2.5"/><line x1="170.5" y1="1581.4" x2="183.5" y2="1575.2" stroke="#e0e0e0" stroke-width="2.5"/><line x1="170.5" y1="1591.0" x2="183.5" y2="1584.8" stroke="#e0e0e0" stroke-width="2.5"/><line x1="170.5" y1="1600.6" x2="183.5" y2="1594.4" stroke="#e0e0e0" stroke-width="2.5"/><path d="M171.5,1678 L182.5,1678 L192.5,1692 L190.5,1695 L163.5,1695 L161.5,1692 Z" fill="#b5b5b5" stroke="#000" stroke-width="5" stroke-linejoin="round"/></g>
<g><rect x="223.5" y="1599" width="11" height="81" fill="#d2d2d2" stroke="#000" stroke-width="4"/><path d="M229,1537 L235.08,1555 L235.5,1555.0 L238.5,1559.8 L235.5,1564.6 L238.5,1569.4 L235.5,1574.2 L238.5,1579.0 L235.5,1583.8 L238.5,1588.6 L235.5,1593.4 L238.5,1598.2 L235.5,1603 L234.5,1605 L223.5,1605 L222.5,1603 L222.5,1600.6 L219.5,1595.8 L222.5,1591.0 L219.5,1586.2 L222.5,1581.4 L219.5,1576.6 L222.5,1571.8 L219.5,1567.0 L222.5,1562.2 L219.5,1557.4 L222.92,1555 Z" fill="#8c8c8c" stroke="#000" stroke-width="4" stroke-linejoin="round"/><line x1="222.5" y1="1562.2" x2="235.5" y2="1556.0" stroke="#e0e0e0" stroke-width="2.5"/><line x1="222.5" y1="1571.8" x2="235.5" y2="1565.6" stroke="#e0e0e0" stroke-width="2.5"/><line x1="222.5" y1="1581.4" x2="235.5" y2="1575.2" stroke="#e0e0e0" stroke-width="2.5"/><line x1="222.5" y1="1591.0" x2="235.5" y2="1584.8" stroke="#e0e0e0" stroke-width="2.5"/><line x1="222.5" y1="1600.6" x2="235.5" y2="1594.4" stroke="#e0e0e0" stroke-width="2.5"/><path d="M223.5,1678 L234.5,1678 L244.5,1692 L242.5,1695 L215.5,1695 L213.5,1692 Z" fill="#b5b5b5" stroke="#000" stroke-width="5" stroke-linejoin="round"/></g>
<g><rect x="190.57" y="1862" width="13.86" height="21.39" fill="#fff" stroke="#000" stroke-width="4" rx="2"/><path d="M190.57,1883.39 L183,1901.06 L181,1951 Q181,1955 186,1955 L209,1955 Q214,1955 214,1951 L212,1901.06 L204.43,1883.39 Z" fill="#a0a0a0" stroke="#000" stroke-width="4" stroke-linejoin="round"/><path d="M191.57,1885.39 L185,1901.06 L184,1952 L196.5,1952 L196.5,1885.39Z" fill="#c4c4c4"/><line x1="197.5" y1="1883.39" x2="197.5" y2="1955" stroke="#000" stroke-width="2"/></g>
<text x="139" y="2029" font-family="Liberation Sans, sans-serif" font-size="62" font-weight="normal" text-anchor="start" textLength="154" lengthAdjust="spacingAndGlyphs" stroke="#000" stroke-width="1.5" stroke-linejoin="miter">TX20</text>
<rect x="1255" y="1290" width="1153" height="2108" rx="8" fill="#fff" stroke="none"/>
<text x="1319" y="1482" font-family="Liberation Sans, sans-serif" font-size="200" font-weight="bold" text-anchor="start" textLength="151" lengthAdjust="spacingAndGlyphs" stroke="#000" stroke-width="10" stroke-linejoin="miter">3.</text>
<path d="M1766.0,1525.0 L1866.0,1525.0 Q1875.0,1525.0 1875.2,1534.0 L1877.8,1691.0 Q1878.0,1700.0 1878.3,1709.0 L1893.7,2191.0 Q1894.0,2200.0 1890.7,2205.7 L1890.3,2206.3 Q1887.0,2212.0 1878.9,2216.0 L1818.1,2246.0 Q1810.0,2250.0 1801.0,2249.3 L1794.0,2248.7 Q1785.0,2248.0 1780.7,2242.3 L1780.3,2241.7 Q1776.0,2236.0 1775.8,2227.0 L1757.2,1534.0 Q1757.0,1525.0 1766.0,1525.0 Z" fill="#b3b3b3" stroke="none" stroke-width="0" stroke-linejoin="round"/>
<polyline points="1757,1525 1757,1525" fill="none" stroke="#000" stroke-width="7" stroke-linecap="round" stroke-linejoin="round" />
<polyline points="1783,1537 1806,2245" fill="none" stroke="#000" stroke-width="7" stroke-linecap="round" stroke-linejoin="round" />
<path d="M1766.0,1525.0 L1866.0,1525.0 Q1875.0,1525.0 1875.2,1534.0 L1877.8,1691.0 Q1878.0,1700.0 1878.3,1709.0 L1893.7,2191.0 Q1894.0,2200.0 1890.7,2205.7 L1890.3,2206.3 Q1887.0,2212.0 1878.9,2216.0 L1818.1,2246.0 Q1810.0,2250.0 1801.0,2249.3 L1794.0,2248.7 Q1785.0,2248.0 1780.7,2242.3 L1780.3,2241.7 Q1776.0,2236.0 1775.8,2227.0 L1757.2,1534.0 Q1757.0,1525.0 1766.0,1525.0 Z" fill="none" stroke="#000" stroke-width="12" stroke-linejoin="round"/>
<polygon points="1792,1771 1802,1762 1878,1738 1890,1740 2110,1800 2110,1893 1797,1806 1793,1800" fill="#b3b3b3" stroke="none" stroke-width="0" stroke-linejoin="round" />
<polygon points="1794,1774 1880,1741 2110,1803 2110,1858" fill="#b9b9b9" stroke="none" stroke-width="0" stroke-linejoin="round" />
<polyline points="1795,1777 2110,1860" fill="none" stroke="#000" stroke-width="8" stroke-linecap="round" stroke-linejoin="round" />
<polygon points="1792,1771 1802,1762 1878,1738 1890,1740 2110,1800 2110,1893 1797,1806 1793,1800" fill="none" stroke="#000" stroke-width="12" stroke-linejoin="round" />
<path d="M2108.9,1621.3 L2224.1,1638.7 Q2233.0,1640.0 2233.2,1649.0 L2239.8,1891.0 Q2240.0,1900.0 2240.2,1909.0 L2249.8,2351.0 Q2250.0,2360.0 2246.7,2365.7 L2246.3,2366.3 Q2243.0,2372.0 2235.0,2376.0 L2173.0,2407.0 Q2165.0,2411.0 2156.0,2410.6 L2149.0,2410.4 Q2140.0,2410.0 2133.8,2404.3 L2133.2,2403.7 Q2127.0,2398.0 2126.7,2389.0 L2100.3,1629.0 Q2100.0,1620.0 2108.9,1621.3 Z" fill="#b3b3b3" stroke="none" stroke-width="0" stroke-linejoin="round"/>
<polyline points="2100,1620 2100,1620" fill="none" stroke="#000" stroke-width="7" stroke-linecap="round" stroke-linejoin="round" />
<polyline points="2135,1633 2160,2406" fill="none" stroke="#000" stroke-width="7" stroke-linecap="round" stroke-linejoin="round" />
<path d="M2108.9,1621.3 L2224.1,1638.7 Q2233.0,1640.0 2233.2,1649.0 L2239.8,1891.0 Q2240.0,1900.0 2240.2,1909.0 L2249.8,2351.0 Q2250.0,2360.0 2246.7,2365.7 L2246.3,2366.3 Q2243.0,2372.0 2235.0,2376.0 L2173.0,2407.0 Q2165.0,2411.0 2156.0,2410.6 L2149.0,2410.4 Q2140.0,2410.0 2133.8,2404.3 L2133.2,2403.7 Q2127.0,2398.0 2126.7,2389.0 L2100.3,1629.0 Q2100.0,1620.0 2108.9,1621.3 Z" fill="none" stroke="#000" stroke-width="12" stroke-linejoin="round"/>
<circle cx="2164" cy="1892" r="4" fill="#000"/>
<circle cx="2209" cy="1877" r="4" fill="#000"/>
<path d="M1615.3,1482.0 L1616.3,1457.0 Q1617.0,1441.0 1632.2,1436.0 L1692.5,1416.1 Q1702.0,1413.0 1711.7,1415.3 L2402.0,1577.0 Q2402.0,1577.0 2402.0,1577.0 L2402.0,1637.0 Q2402.0,1657.0 2382.5,1661.6 L2348.8,1669.6 Q2305.0,1680.0 2261.6,1668.0 L1626.8,1492.6 Q1621.0,1491.0 1618.1,1489.6 L1617.9,1489.4 Q1615.0,1488.0 1615.3,1482.0 Z" fill="#b3b3b3" stroke="none" stroke-width="0" stroke-linejoin="round"/>
<path d="M1626.6,1440.4 L1692.5,1418.2 Q1702.0,1415.0 1711.7,1417.3 L2402.0,1579.0 Q2402.0,1579.0 2402.0,1579.0 L2402.0,1597.0 Q2402.0,1597.0 2402.0,1597.0 L2368.6,1605.9 Q2357.0,1609.0 2345.3,1611.7 L2325.7,1616.3 Q2314.0,1619.0 2302.1,1617.6 L2275.0,1614.5 Q2271.0,1614.0 2267.1,1613.0 L1631.9,1457.0 Q1628.0,1456.0 1625.7,1452.7 L1623.3,1449.2 Q1619.0,1443.0 1626.6,1440.4 Z" fill="#b9b9b9" stroke="none" stroke-width="0" stroke-linejoin="round"/>
<path d="M1628,1456 C1842.3,1508.7 2056.3,1563.0 2271,1614 C2285.0,1617.3 2299.6,1619.8 2314,1619 C2328.7,1618.1 2342.7,1612.6 2357,1609 C2372.1,1605.2 2387.0,1601.0 2402,1597 " fill="none" stroke="#000" stroke-width="8" stroke-linecap="round"/>
<path d="M1615.3,1482.0 L1616.3,1457.0 Q1617.0,1441.0 1632.2,1436.0 L1692.5,1416.1 Q1702.0,1413.0 1711.7,1415.3 L2402.0,1577.0 Q2402.0,1577.0 2402.0,1577.0 L2402.0,1637.0 Q2402.0,1657.0 2382.5,1661.6 L2348.8,1669.6 Q2305.0,1680.0 2261.6,1668.0 L1626.8,1492.6 Q1621.0,1491.0 1618.1,1489.6 L1617.9,1489.4 Q1615.0,1488.0 1615.3,1482.0 Z" fill="none" stroke="#000" stroke-width="14" stroke-linejoin="round"/>
<g transform="translate(1735,1451) rotate(6)"><ellipse cx="0" cy="0" rx="41" ry="15" fill="#808080"/><path d="M-30.8,9.9 A41 15 0 0 0 30.8,9.9 Q0,-3.0 -30.8,9.9Z" fill="#0a0a0a"/><ellipse cx="0" cy="0" rx="41" ry="15" fill="none" stroke="#000" stroke-width="7"/></g>
<g transform="translate(1828,1474) rotate(6)"><ellipse cx="0" cy="0" rx="43" ry="15" fill="#808080"/><path d="M-32.2,9.9 A43 15 0 0 0 32.2,9.9 Q0,-3.0 -32.2,9.9Z" fill="#0a0a0a"/><ellipse cx="0" cy="0" rx="43" ry="15" fill="none" stroke="#000" stroke-width="7"/></g>
<g transform="translate(1928,1497) rotate(6)"><ellipse cx="0" cy="0" rx="44" ry="16" fill="#808080"/><path d="M-33.0,10.6 A44 16 0 0 0 33.0,10.6 Q0,-3.2 -33.0,10.6Z" fill="#0a0a0a"/><ellipse cx="0" cy="0" rx="44" ry="16" fill="none" stroke="#000" stroke-width="7"/></g>
<g transform="translate(2039,1522) rotate(6)"><ellipse cx="0" cy="0" rx="46" ry="17" fill="#808080"/><path d="M-34.5,11.2 A46 17 0 0 0 34.5,11.2 Q0,-3.4 -34.5,11.2Z" fill="#0a0a0a"/><ellipse cx="0" cy="0" rx="46" ry="17" fill="none" stroke="#000" stroke-width="7"/></g>
<g transform="translate(2153,1550) rotate(6)"><ellipse cx="0" cy="0" rx="48" ry="18" fill="#808080"/><path d="M-36.0,11.9 A48 18 0 0 0 36.0,11.9 Q0,-3.6 -36.0,11.9Z" fill="#0a0a0a"/><ellipse cx="0" cy="0" rx="48" ry="18" fill="none" stroke="#000" stroke-width="7"/></g>
<g transform="translate(2260,1579) rotate(6)"><ellipse cx="0" cy="0" rx="50" ry="18" fill="#808080"/><path d="M-37.5,11.9 A50 18 0 0 0 37.5,11.9 Q0,-3.6 -37.5,11.9Z" fill="#0a0a0a"/><ellipse cx="0" cy="0" rx="50" ry="18" fill="none" stroke="#000" stroke-width="7"/></g>
<polyline points="2320,2036 2326,2365" fill="none" stroke="#000" stroke-width="10" stroke-linecap="round" stroke-linejoin="round" />
<polygon points="2305,2350 2349,2350 2327,2413" fill="#000" stroke="#000" stroke-width="4" stroke-linejoin="round"/>
<polygon points="1262,2489 1812,2263 1818,2352 2053,2470 2149,2426 2153,2622 2075,2663 2083,2852 2127,2833 2131,2892 2083,2925 2087,3029 1591,3323 1268,3060" fill="#808080" stroke="none" stroke-width="0" stroke-linejoin="round" />
<polyline points="1712,2318 1818,2352" fill="none" stroke="#000" stroke-width="5" stroke-linecap="round" stroke-linejoin="round" />
<polyline points="1262,2489 1539,2722 2053,2470" fill="none" stroke="#000" stroke-width="9" stroke-linecap="round" stroke-linejoin="round" />
<polyline points="1539,2722 1591,3320" fill="none" stroke="#000" stroke-width="6" stroke-linecap="round" stroke-linejoin="round" />
<polygon points="1262,2489 1812,2263 1818,2352 2053,2470 2149,2426 2153,2622 2075,2663 2083,2852 2127,2833 2131,2892 2083,2925 2087,3029 1591,3323 1268,3060" fill="none" stroke="#000" stroke-width="14" stroke-linejoin="round" />
<g transform="translate(1624,2501) rotate(-4)"><ellipse rx="72" ry="43" fill="#404040" stroke="#000" stroke-width="12"/></g>
<rect x="79" y="2400" width="1091" height="1020" rx="8" fill="#fff" stroke="none"/>
<text x="123" y="2576" font-family="Liberation Sans, sans-serif" font-size="197" font-weight="bold" text-anchor="start" textLength="165" lengthAdjust="spacingAndGlyphs" stroke="#000" stroke-width="10" stroke-linejoin="miter">4.</text>
<path d="M616.0,2530.8 L705.0,2539.2 Q714.0,2540.0 714.3,2549.0 L719.7,2705.0 Q720.0,2714.0 720.0,2723.0 L720.0,2781.0 Q720.0,2790.0 711.0,2790.0 L625.0,2790.0 Q616.0,2790.0 615.7,2781.0 L607.3,2539.0 Q607.0,2530.0 616.0,2530.8 Z" fill="#b3b3b3" stroke="none" stroke-width="0" stroke-linejoin="round"/>
<polyline points="607,2530 607,2530" fill="none" stroke="#000" stroke-width="7" stroke-linecap="round" stroke-linejoin="round" />
<polyline points="630,2540 639,2760" fill="none" stroke="#000" stroke-width="7" stroke-linecap="round" stroke-linejoin="round" />
<path d="M616.0,2530.8 L705.0,2539.2 Q714.0,2540.0 714.3,2549.0 L719.7,2705.0 Q720.0,2714.0 720.0,2723.0 L720.0,2781.0 Q720.0,2790.0 711.0,2790.0 L625.0,2790.0 Q616.0,2790.0 615.7,2781.0 L607.3,2539.0 Q607.0,2530.0 616.0,2530.8 Z" fill="none" stroke="#000" stroke-width="12" stroke-linejoin="round"/>
<polygon points="640,2733 650,2726 713,2712 723,2713 912,2770 912,2845 642,2760 638,2752" fill="#b3b3b3" stroke="none" stroke-width="0" stroke-linejoin="round" />
<polygon points="642,2736 715,2714 911,2773 911,2804" fill="#b9b9b9" stroke="none" stroke-width="0" stroke-linejoin="round" />
<polyline points="642,2738 911,2806" fill="none" stroke="#000" stroke-width="8" stroke-linecap="round" stroke-linejoin="round" />
<polygon points="640,2733 650,2726 713,2712 723,2713 912,2770 912,2845 642,2760 638,2752" fill="none" stroke="#000" stroke-width="12" stroke-linejoin="round" />
<path d="M912.6,2607.8 L1004.4,2637.2 Q1013.0,2640.0 1013.2,2649.0 L1019.8,2891.0 Q1020.0,2900.0 1020.3,2909.0 L1030.7,3227.0 Q1031.0,3236.0 1027.7,3241.7 L1027.3,3242.3 Q1024.0,3248.0 1016.4,3252.8 L967.6,3283.2 Q960.0,3288.0 951.1,3286.7 L948.9,3286.3 Q940.0,3285.0 933.6,3278.6 L931.4,3276.4 Q925.0,3270.0 924.7,3261.0 L904.3,2614.0 Q904.0,2605.0 912.6,2607.8 Z" fill="#b3b3b3" stroke="none" stroke-width="0" stroke-linejoin="round"/>
<polyline points="904,2605 904,2605" fill="none" stroke="#000" stroke-width="7" stroke-linecap="round" stroke-linejoin="round" />
<polyline points="930,2624 956,3283" fill="none" stroke="#000" stroke-width="7" stroke-linecap="round" stroke-linejoin="round" />
<path d="M912.6,2607.8 L1004.4,2637.2 Q1013.0,2640.0 1013.2,2649.0 L1019.8,2891.0 Q1020.0,2900.0 1020.3,2909.0 L1030.7,3227.0 Q1031.0,3236.0 1027.7,3241.7 L1027.3,3242.3 Q1024.0,3248.0 1016.4,3252.8 L967.6,3283.2 Q960.0,3288.0 951.1,3286.7 L948.9,3286.3 Q940.0,3285.0 933.6,3278.6 L931.4,3276.4 Q925.0,3270.0 924.7,3261.0 L904.3,2614.0 Q904.0,2605.0 912.6,2607.8 Z" fill="none" stroke="#000" stroke-width="12" stroke-linejoin="round"/>
<path d="M492.3,2494.0 L493.3,2472.0 Q494.0,2458.0 507.4,2453.9 L539.4,2444.0 Q549.0,2441.0 558.8,2443.1 L1166.0,2574.0 Q1166.0,2574.0 1166.0,2574.0 L1166.0,2635.0 Q1166.0,2650.0 1151.1,2652.0 L1127.7,2655.2 Q1093.0,2660.0 1059.1,2651.3 L501.8,2507.5 Q496.0,2506.0 494.1,2503.1 L493.9,2502.9 Q492.0,2500.0 492.3,2494.0 Z" fill="#b3b3b3" stroke="none" stroke-width="0" stroke-linejoin="round"/>
<path d="M504.6,2456.6 L539.4,2445.9 Q549.0,2443.0 558.8,2445.1 L1166.0,2576.0 Q1166.0,2576.0 1166.0,2576.0 L1166.0,2592.0 Q1166.0,2592.0 1166.0,2592.0 L1141.6,2598.8 Q1130.0,2602.0 1118.2,2603.9 L1110.8,2605.1 Q1099.0,2607.0 1087.3,2604.5 L504.9,2478.8 Q501.0,2478.0 500.2,2474.1 L498.6,2466.8 Q497.0,2459.0 504.6,2456.6 Z" fill="#b9b9b9" stroke="none" stroke-width="0" stroke-linejoin="round"/>
<path d="M501,2478 C700.3,2521.0 898.9,2567.7 1099,2607 C1109.9,2609.1 1121.1,2604.4 1132,2602 C1143.5,2599.4 1154.7,2595.3 1166,2592 " fill="none" stroke="#000" stroke-width="8" stroke-linecap="round"/>
<path d="M492.3,2494.0 L493.3,2472.0 Q494.0,2458.0 507.4,2453.9 L539.4,2444.0 Q549.0,2441.0 558.8,2443.1 L1166.0,2574.0 Q1166.0,2574.0 1166.0,2574.0 L1166.0,2635.0 Q1166.0,2650.0 1151.1,2652.0 L1127.7,2655.2 Q1093.0,2660.0 1059.1,2651.3 L501.8,2507.5 Q496.0,2506.0 494.1,2503.1 L493.9,2502.9 Q492.0,2500.0 492.3,2494.0 Z" fill="none" stroke="#000" stroke-width="13" stroke-linejoin="round"/>
<g transform="translate(597,2467) rotate(7)"><ellipse cx="0" cy="0" rx="36" ry="12" fill="#808080"/><path d="M-27.0,7.9 A36 12 0 0 0 27.0,7.9 Q0,-2.4 -27.0,7.9Z" fill="#0a0a0a"/><ellipse cx="0" cy="0" rx="36" ry="12" fill="none" stroke="#000" stroke-width="7"/></g>
<g transform="translate(672,2487) rotate(7)"><ellipse cx="0" cy="0" rx="38" ry="13" fill="#808080"/><path d="M-28.5,8.6 A38 13 0 0 0 28.5,8.6 Q0,-2.6 -28.5,8.6Z" fill="#0a0a0a"/><ellipse cx="0" cy="0" rx="38" ry="13" fill="none" stroke="#000" stroke-width="7"/></g>
<g transform="translate(757,2507) rotate(7)"><ellipse cx="0" cy="0" rx="40" ry="14" fill="#808080"/><path d="M-30.0,9.3 A40 14 0 0 0 30.0,9.3 Q0,-2.8 -30.0,9.3Z" fill="#0a0a0a"/><ellipse cx="0" cy="0" rx="40" ry="14" fill="none" stroke="#000" stroke-width="7"/></g>
<g transform="translate(855,2532) rotate(7)"><ellipse cx="0" cy="0" rx="42" ry="15" fill="#808080"/><path d="M-31.5,9.9 A42 15 0 0 0 31.5,9.9 Q0,-3.0 -31.5,9.9Z" fill="#0a0a0a"/><ellipse cx="0" cy="0" rx="42" ry="15" fill="none" stroke="#000" stroke-width="7"/></g>
<g transform="translate(947,2554) rotate(7)"><ellipse cx="0" cy="0" rx="44" ry="16" fill="#808080"/><path d="M-33.0,10.6 A44 16 0 0 0 33.0,10.6 Q0,-3.2 -33.0,10.6Z" fill="#0a0a0a"/><ellipse cx="0" cy="0" rx="44" ry="16" fill="none" stroke="#000" stroke-width="7"/></g>
<g transform="translate(1040,2579) rotate(7)"><ellipse cx="0" cy="0" rx="46" ry="17" fill="#808080"/><path d="M-34.5,11.2 A46 17 0 0 0 34.5,11.2 Q0,-3.4 -34.5,11.2Z" fill="#0a0a0a"/><ellipse cx="0" cy="0" rx="46" ry="17" fill="none" stroke="#000" stroke-width="7"/></g>
<text x="100" y="2871" font-family="Liberation Sans, sans-serif" font-size="61" font-weight="normal" text-anchor="start" textLength="306" lengthAdjust="spacingAndGlyphs" stroke="#000" stroke-width="1.5" stroke-linejoin="miter">5,5x60mm</text>
<polygon points="302,2888 639,2763 912,2847 926,3270 684,3410 482,3410 328,3292" fill="#808080" stroke="none" stroke-width="0" stroke-linejoin="round" />
<polyline points="302,2888 555,3020 912,2849" fill="none" stroke="#000" stroke-width="9" stroke-linecap="round" stroke-linejoin="round" />
<polyline points="555,3020 586,3410" fill="none" stroke="#000" stroke-width="6" stroke-linecap="round" stroke-linejoin="round" />
<polygon points="302,2888 639,2763 912,2847 926,3270 684,3410 482,3410 328,3292" fill="none" stroke="#000" stroke-width="13" stroke-linejoin="round" />
<defs><clipPath id="c4"><rect x="850" y="2690" width="300" height="700"/></clipPath></defs><g clip-path="url(#c4)">
<path d="M912.6,2607.8 L1004.4,2637.2 Q1013.0,2640.0 1013.2,2649.0 L1019.8,2891.0 Q1020.0,2900.0 1020.3,2909.0 L1030.7,3227.0 Q1031.0,3236.0 1027.7,3241.7 L1027.3,3242.3 Q1024.0,3248.0 1016.4,3252.8 L967.6,3283.2 Q960.0,3288.0 951.1,3286.7 L948.9,3286.3 Q940.0,3285.0 933.6,3278.6 L931.4,3276.4 Q925.0,3270.0 924.7,3261.0 L904.3,2614.0 Q904.0,2605.0 912.6,2607.8 Z" fill="#b3b3b3" stroke="none" stroke-width="0" stroke-linejoin="round"/>
<polyline points="904,2605 904,2605" fill="none" stroke="#000" stroke-width="7" stroke-linecap="round" stroke-linejoin="round" />
<polyline points="930,2624 956,3283" fill="none" stroke="#000" stroke-width="7" stroke-linecap="round" stroke-linejoin="round" />
<path d="M912.6,2607.8 L1004.4,2637.2 Q1013.0,2640.0 1013.2,2649.0 L1019.8,2891.0 Q1020.0,2900.0 1020.3,2909.0 L1030.7,3227.0 Q1031.0,3236.0 1027.7,3241.7 L1027.3,3242.3 Q1024.0,3248.0 1016.4,3252.8 L967.6,3283.2 Q960.0,3288.0 951.1,3286.7 L948.9,3286.3 Q940.0,3285.0 933.6,3278.6 L931.4,3276.4 Q925.0,3270.0 924.7,3261.0 L904.3,2614.0 Q904.0,2605.0 912.6,2607.8 Z" fill="none" stroke="#000" stroke-width="12" stroke-linejoin="round"/>
</g>
<g transform="translate(598,2880) rotate(-3)"><ellipse rx="62" ry="28" fill="#404040" stroke="#000" stroke-width="9"/></g>
<line x1="566" y1="2739" x2="518" y2="2728" stroke="#000" stroke-width="8" stroke-linecap="round"/>
<ellipse cx="518" cy="2728" rx="5.6" ry="9" transform="rotate(-167.1 518 2728)" fill="#000"/>
<polyline points="566,2739 611,2756" fill="none" stroke="#000" stroke-width="5.5" stroke-dasharray="15 19" stroke-linecap="round"/>
<line x1="558" y1="2787" x2="518" y2="2776" stroke="#000" stroke-width="8" stroke-linecap="round"/>
<ellipse cx="518" cy="2776" rx="5.6" ry="9" transform="rotate(-164.6 518 2776)" fill="#000"/>
<circle cx="956" cy="2832" r="5" fill="#000"/>
<circle cx="995" cy="2815" r="5" fill="#000"/>
<circle cx="997" cy="2854" r="5" fill="#000"/>
<circle cx="997" cy="2924" r="5" fill="#000"/>
<circle cx="964" cy="3147" r="5" fill="#000"/>
<polyline points="997,2854 1087,2888" fill="none" stroke="#000" stroke-width="5.5" stroke-dasharray="15 19" stroke-linecap="round"/>
<line x1="1087" y1="2888" x2="1132" y2="2899" stroke="#000" stroke-width="8" stroke-linecap="round"/>
<ellipse cx="1132" cy="2899" rx="5.6" ry="9" transform="rotate(13.7 1132 2899)" fill="#000"/>
<polyline points="997,2924 1087,2955" fill="none" stroke="#000" stroke-width="5.5" stroke-dasharray="15 19" stroke-linecap="round"/>
<line x1="1087" y1="2955" x2="1132" y2="2969" stroke="#000" stroke-width="8" stroke-linecap="round"/>
<ellipse cx="1132" cy="2969" rx="5.6" ry="9" transform="rotate(17.3 1132 2969)" fill="#000"/>
<polyline points="964,3147 1093,3194" fill="none" stroke="#000" stroke-width="5.5" stroke-dasharray="15 19" stroke-linecap="round"/>
<line x1="1093" y1="3194" x2="1138" y2="3211" stroke="#000" stroke-width="8" stroke-linecap="round"/>
<ellipse cx="1138" cy="3211" rx="5.6" ry="9" transform="rotate(20.7 1138 3211)" fill="#000"/>
<g><path d="M138,2606 L145.5,2616.35 L145.5,2641.19 L130.5,2641.19 L130.5,2616.35 Z" fill="#a8a8a8" stroke="#000" stroke-width="4" stroke-linejoin="round"/><path d="M130.0,2655.68 L146.0,2655.68 L147.0,2796.44 L129.0,2796.44 Z" fill="#d0d0d0" stroke="#000" stroke-width="4.5" stroke-linejoin="round"/><line x1="131.5" y1="2663.2" x2="144.5" y2="2659.7" stroke="#1a1a1a" stroke-width="3"/><line x1="131.5" y1="2670.2" x2="144.5" y2="2666.7" stroke="#1a1a1a" stroke-width="3"/><line x1="131.5" y1="2677.2" x2="144.5" y2="2673.7" stroke="#1a1a1a" stroke-width="3"/><line x1="131.5" y1="2684.2" x2="144.5" y2="2680.7" stroke="#1a1a1a" stroke-width="3"/><line x1="131.5" y1="2691.2" x2="144.5" y2="2687.7" stroke="#1a1a1a" stroke-width="3"/><line x1="131.5" y1="2698.2" x2="144.5" y2="2694.7" stroke="#1a1a1a" stroke-width="3"/><line x1="131.5" y1="2705.2" x2="144.5" y2="2701.7" stroke="#1a1a1a" stroke-width="3"/><line x1="131.5" y1="2712.2" x2="144.5" y2="2708.7" stroke="#1a1a1a" stroke-width="3"/><line x1="131.5" y1="2719.2" x2="144.5" y2="2715.7" stroke="#1a1a1a" stroke-width="3"/><line x1="131.5" y1="2726.2" x2="144.5" y2="2722.7" stroke="#1a1a1a" stroke-width="3"/><line x1="131.5" y1="2733.2" x2="144.5" y2="2729.7" stroke="#1a1a1a" stroke-width="3"/><line x1="131.5" y1="2740.2" x2="144.5" y2="2736.7" stroke="#1a1a1a" stroke-width="3"/><line x1="131.5" y1="2747.2" x2="144.5" y2="2743.7" stroke="#1a1a1a" stroke-width="3"/><line x1="131.5" y1="2754.2" x2="144.5" y2="2750.7" stroke="#1a1a1a" stroke-width="3"/><line x1="131.5" y1="2761.2" x2="144.5" y2="2757.7" stroke="#1a1a1a" stroke-width="3"/><line x1="131.5" y1="2768.2" x2="144.5" y2="2764.7" stroke="#1a1a1a" stroke-width="3"/><line x1="131.5" y1="2775.2" x2="144.5" y2="2771.7" stroke="#1a1a1a" stroke-width="3"/><line x1="131.5" y1="2782.2" x2="144.5" y2="2778.7" stroke="#1a1a1a" stroke-width="3"/><line x1="131.5" y1="2789.2" x2="144.5" y2="2785.7" stroke="#1a1a1a" stroke-width="3"/><line x1="131.5" y1="2796.2" x2="144.5" y2="2792.7" stroke="#1a1a1a" stroke-width="3"/><rect x="124.0" y="2640.19" width="28" height="16.48999999999978" rx="4" fill="#bbb" stroke="#000" stroke-width="4"/><path d="M129.0,2796.44 L147.0,2796.44 L157.0,2811 L155.0,2813 L121.0,2813 L119.0,2811 Z" fill="#9a9a9a" stroke="#000" stroke-width="4.5" stroke-linejoin="round"/></g>
<g><path d="M192,2606 L199.5,2616.35 L199.5,2641.19 L184.5,2641.19 L184.5,2616.35 Z" fill="#a8a8a8" stroke="#000" stroke-width="4" stroke-linejoin="round"/><path d="M184.0,2655.68 L200.0,2655.68 L201.0,2796.44 L183.0,2796.44 Z" fill="#d0d0d0" stroke="#000" stroke-width="4.5" stroke-linejoin="round"/><line x1="185.5" y1="2663.2" x2="198.5" y2="2659.7" stroke="#1a1a1a" stroke-width="3"/><line x1="185.5" y1="2670.2" x2="198.5" y2="2666.7" stroke="#1a1a1a" stroke-width="3"/><line x1="185.5" y1="2677.2" x2="198.5" y2="2673.7" stroke="#1a1a1a" stroke-width="3"/><line x1="185.5" y1="2684.2" x2="198.5" y2="2680.7" stroke="#1a1a1a" stroke-width="3"/><line x1="185.5" y1="2691.2" x2="198.5" y2="2687.7" stroke="#1a1a1a" stroke-width="3"/><line x1="185.5" y1="2698.2" x2="198.5" y2="2694.7" stroke="#1a1a1a" stroke-width="3"/><line x1="185.5" y1="2705.2" x2="198.5" y2="2701.7" stroke="#1a1a1a" stroke-width="3"/><line x1="185.5" y1="2712.2" x2="198.5" y2="2708.7" stroke="#1a1a1a" stroke-width="3"/><line x1="185.5" y1="2719.2" x2="198.5" y2="2715.7" stroke="#1a1a1a" stroke-width="3"/><line x1="185.5" y1="2726.2" x2="198.5" y2="2722.7" stroke="#1a1a1a" stroke-width="3"/><line x1="185.5" y1="2733.2" x2="198.5" y2="2729.7" stroke="#1a1a1a" stroke-width="3"/><line x1="185.5" y1="2740.2" x2="198.5" y2="2736.7" stroke="#1a1a1a" stroke-width="3"/><line x1="185.5" y1="2747.2" x2="198.5" y2="2743.7" stroke="#1a1a1a" stroke-width="3"/><line x1="185.5" y1="2754.2" x2="198.5" y2="2750.7" stroke="#1a1a1a" stroke-width="3"/><line x1="185.5" y1="2761.2" x2="198.5" y2="2757.7" stroke="#1a1a1a" stroke-width="3"/><line x1="185.5" y1="2768.2" x2="198.5" y2="2764.7" stroke="#1a1a1a" stroke-width="3"/><line x1="185.5" y1="2775.2" x2="198.5" y2="2771.7" stroke="#1a1a1a" stroke-width="3"/><line x1="185.5" y1="2782.2" x2="198.5" y2="2778.7" stroke="#1a1a1a" stroke-width="3"/><line x1="185.5" y1="2789.2" x2="198.5" y2="2785.7" stroke="#1a1a1a" stroke-width="3"/><line x1="185.5" y1="2796.2" x2="198.5" y2="2792.7" stroke="#1a1a1a" stroke-width="3"/><rect x="178.0" y="2640.19" width="28" height="16.48999999999978" rx="4" fill="#bbb" stroke="#000" stroke-width="4"/><path d="M183.0,2796.44 L201.0,2796.44 L211.0,2811 L209.0,2813 L175.0,2813 L173.0,2811 Z" fill="#9a9a9a" stroke="#000" stroke-width="4.5" stroke-linejoin="round"/></g>
<g><path d="M248,2606 L255.5,2616.35 L255.5,2641.19 L240.5,2641.19 L240.5,2616.35 Z" fill="#a8a8a8" stroke="#000" stroke-width="4" stroke-linejoin="round"/><path d="M240.0,2655.68 L256.0,2655.68 L257.0,2796.44 L239.0,2796.44 Z" fill="#d0d0d0" stroke="#000" stroke-width="4.5" stroke-linejoin="round"/><line x1="241.5" y1="2663.2" x2="254.5" y2="2659.7" stroke="#1a1a1a" stroke-width="3"/><line x1="241.5" y1="2670.2" x2="254.5" y2="2666.7" stroke="#1a1a1a" stroke-width="3"/><line x1="241.5" y1="2677.2" x2="254.5" y2="2673.7" stroke="#1a1a1a" stroke-width="3"/><line x1="241.5" y1="2684.2" x2="254.5" y2="2680.7" stroke="#1a1a1a" stroke-width="3"/><line x1="241.5" y1="2691.2" x2="254.5" y2="2687.7" stroke="#1a1a1a" stroke-width="3"/><line x1="241.5" y1="2698.2" x2="254.5" y2="2694.7" stroke="#1a1a1a" stroke-width="3"/><line x1="241.5" y1="2705.2" x2="254.5" y2="2701.7" stroke="#1a1a1a" stroke-width="3"/><line x1="241.5" y1="2712.2" x2="254.5" y2="2708.7" stroke="#1a1a1a" stroke-width="3"/><line x1="241.5" y1="2719.2" x2="254.5" y2="2715.7" stroke="#1a1a1a" stroke-width="3"/><line x1="241.5" y1="2726.2" x2="254.5" y2="2722.7" stroke="#1a1a1a" stroke-width="3"/><line x1="241.5" y1="2733.2" x2="254.5" y2="2729.7" stroke="#1a1a1a" stroke-width="3"/><line x1="241.5" y1="2740.2" x2="254.5" y2="2736.7" stroke="#1a1a1a" stroke-width="3"/><line x1="241.5" y1="2747.2" x2="254.5" y2="2743.7" stroke="#1a1a1a" stroke-width="3"/><line x1="241.5" y1="2754.2" x2="254.5" y2="2750.7" stroke="#1a1a1a" stroke-width="3"/><line x1="241.5" y1="2761.2" x2="254.5" y2="2757.7" stroke="#1a1a1a" stroke-width="3"/><line x1="241.5" y1="2768.2" x2="254.5" y2="2764.7" stroke="#1a1a1a" stroke-width="3"/><line x1="241.5" y1="2775.2" x2="254.5" y2="2771.7" stroke="#1a1a1a" stroke-width="3"/><line x1="241.5" y1="2782.2" x2="254.5" y2="2778.7" stroke="#1a1a1a" stroke-width="3"/><line x1="241.5" y1="2789.2" x2="254.5" y2="2785.7" stroke="#1a1a1a" stroke-width="3"/><line x1="241.5" y1="2796.2" x2="254.5" y2="2792.7" stroke="#1a1a1a" stroke-width="3"/><rect x="234.0" y="2640.19" width="28" height="16.48999999999978" rx="4" fill="#bbb" stroke="#000" stroke-width="4"/><path d="M239.0,2796.44 L257.0,2796.44 L267.0,2811 L265.0,2813 L231.0,2813 L229.0,2811 Z" fill="#9a9a9a" stroke="#000" stroke-width="4.5" stroke-linejoin="round"/></g>
<g><path d="M302,2606 L309.5,2616.35 L309.5,2641.19 L294.5,2641.19 L294.5,2616.35 Z" fill="#a8a8a8" stroke="#000" stroke-width="4" stroke-linejoin="round"/><path d="M294.0,2655.68 L310.0,2655.68 L311.0,2796.44 L293.0,2796.44 Z" fill="#d0d0d0" stroke="#000" stroke-width="4.5" stroke-linejoin="round"/><line x1="295.5" y1="2663.2" x2="308.5" y2="2659.7" stroke="#1a1a1a" stroke-width="3"/><line x1="295.5" y1="2670.2" x2="308.5" y2="2666.7" stroke="#1a1a1a" stroke-width="3"/><line x1="295.5" y1="2677.2" x2="308.5" y2="2673.7" stroke="#1a1a1a" stroke-width="3"/><line x1="295.5" y1="2684.2" x2="308.5" y2="2680.7" stroke="#1a1a1a" stroke-width="3"/><line x1="295.5" y1="2691.2" x2="308.5" y2="2687.7" stroke="#1a1a1a" stroke-width="3"/><line x1="295.5" y1="2698.2" x2="308.5" y2="2694.7" stroke="#1a1a1a" stroke-width="3"/><line x1="295.5" y1="2705.2" x2="308.5" y2="2701.7" stroke="#1a1a1a" stroke-width="3"/><line x1="295.5" y1="2712.2" x2="308.5" y2="2708.7" stroke="#1a1a1a" stroke-width="3"/><line x1="295.5" y1="2719.2" x2="308.5" y2="2715.7" stroke="#1a1a1a" stroke-width="3"/><line x1="295.5" y1="2726.2" x2="308.5" y2="2722.7" stroke="#1a1a1a" stroke-width="3"/><line x1="295.5" y1="2733.2" x2="308.5" y2="2729.7" stroke="#1a1a1a" stroke-width="3"/><line x1="295.5" y1="2740.2" x2="308.5" y2="2736.7" stroke="#1a1a1a" stroke-width="3"/><line x1="295.5" y1="2747.2" x2="308.5" y2="2743.7" stroke="#1a1a1a" stroke-width="3"/><line x1="295.5" y1="2754.2" x2="308.5" y2="2750.7" stroke="#1a1a1a" stroke-width="3"/><line x1="295.5" y1="2761.2" x2="308.5" y2="2757.7" stroke="#1a1a1a" stroke-width="3"/><line x1="295.5" y1="2768.2" x2="308.5" y2="2764.7" stroke="#1a1a1a" stroke-width="3"/><line x1="295.5" y1="2775.2" x2="308.5" y2="2771.7" stroke="#1a1a1a" stroke-width="3"/><line x1="295.5" y1="2782.2" x2="308.5" y2="2778.7" stroke="#1a1a1a" stroke-width="3"/><line x1="295.5" y1="2789.2" x2="308.5" y2="2785.7" stroke="#1a1a1a" stroke-width="3"/><line x1="295.5" y1="2796.2" x2="308.5" y2="2792.7" stroke="#1a1a1a" stroke-width="3"/><rect x="288.0" y="2640.19" width="28" height="16.48999999999978" rx="4" fill="#bbb" stroke="#000" stroke-width="4"/><path d="M293.0,2796.44 L311.0,2796.44 L321.0,2811 L319.0,2813 L285.0,2813 L283.0,2811 Z" fill="#9a9a9a" stroke="#000" stroke-width="4.5" stroke-linejoin="round"/></g>
<g><path d="M359,2606 L366.5,2616.35 L366.5,2641.19 L351.5,2641.19 L351.5,2616.35 Z" fill="#a8a8a8" stroke="#000" stroke-width="4" stroke-linejoin="round"/><path d="M351.0,2655.68 L367.0,2655.68 L368.0,2796.44 L350.0,2796.44 Z" fill="#d0d0d0" stroke="#000" stroke-width="4.5" stroke-linejoin="round"/><line x1="352.5" y1="2663.2" x2="365.5" y2="2659.7" stroke="#1a1a1a" stroke-width="3"/><line x1="352.5" y1="2670.2" x2="365.5" y2="2666.7" stroke="#1a1a1a" stroke-width="3"/><line x1="352.5" y1="2677.2" x2="365.5" y2="2673.7" stroke="#1a1a1a" stroke-width="3"/><line x1="352.5" y1="2684.2" x2="365.5" y2="2680.7" stroke="#1a1a1a" stroke-width="3"/><line x1="352.5" y1="2691.2" x2="365.5" y2="2687.7" stroke="#1a1a1a" stroke-width="3"/><line x1="352.5" y1="2698.2" x2="365.5" y2="2694.7" stroke="#1a1a1a" stroke-width="3"/><line x1="352.5" y1="2705.2" x2="365.5" y2="2701.7" stroke="#1a1a1a" stroke-width="3"/><line x1="352.5" y1="2712.2" x2="365.5" y2="2708.7" stroke="#1a1a1a" stroke-width="3"/><line x1="352.5" y1="2719.2" x2="365.5" y2="2715.7" stroke="#1a1a1a" stroke-width="3"/><line x1="352.5" y1="2726.2" x2="365.5" y2="2722.7" stroke="#1a1a1a" stroke-width="3"/><line x1="352.5" y1="2733.2" x2="365.5" y2="2729.7" stroke="#1a1a1a" stroke-width="3"/><line x1="352.5" y1="2740.2" x2="365.5" y2="2736.7" stroke="#1a1a1a" stroke-width="3"/><line x1="352.5" y1="2747.2" x2="365.5" y2="2743.7" stroke="#1a1a1a" stroke-width="3"/><line x1="352.5" y1="2754.2" x2="365.5" y2="2750.7" stroke="#1a1a1a" stroke-width="3"/><line x1="352.5" y1="2761.2" x2="365.5" y2="2757.7" stroke="#1a1a1a" stroke-width="3"/><line x1="352.5" y1="2768.2" x2="365.5" y2="2764.7" stroke="#1a1a1a" stroke-width="3"/><line x1="352.5" y1="2775.2" x2="365.5" y2="2771.7" stroke="#1a1a1a" stroke-width="3"/><line x1="352.5" y1="2782.2" x2="365.5" y2="2778.7" stroke="#1a1a1a" stroke-width="3"/><line x1="352.5" y1="2789.2" x2="365.5" y2="2785.7" stroke="#1a1a1a" stroke-width="3"/><line x1="352.5" y1="2796.2" x2="365.5" y2="2792.7" stroke="#1a1a1a" stroke-width="3"/><rect x="345.0" y="2640.19" width="28" height="16.48999999999978" rx="4" fill="#bbb" stroke="#000" stroke-width="4"/><path d="M350.0,2796.44 L368.0,2796.44 L378.0,2811 L376.0,2813 L342.0,2813 L340.0,2811 Z" fill="#9a9a9a" stroke="#000" stroke-width="4.5" stroke-linejoin="round"/></g>
<g><path d="M414,2606 L421.5,2616.35 L421.5,2641.19 L406.5,2641.19 L406.5,2616.35 Z" fill="#a8a8a8" stroke="#000" stroke-width="4" stroke-linejoin="round"/><path d="M406.0,2655.68 L422.0,2655.68 L423.0,2796.44 L405.0,2796.44 Z" fill="#d0d0d0" stroke="#000" stroke-width="4.5" stroke-linejoin="round"/><line x1="407.5" y1="2663.2" x2="420.5" y2="2659.7" stroke="#1a1a1a" stroke-width="3"/><line x1="407.5" y1="2670.2" x2="420.5" y2="2666.7" stroke="#1a1a1a" stroke-width="3"/><line x1="407.5" y1="2677.2" x2="420.5" y2="2673.7" stroke="#1a1a1a" stroke-width="3"/><line x1="407.5" y1="2684.2" x2="420.5" y2="2680.7" stroke="#1a1a1a" stroke-width="3"/><line x1="407.5" y1="2691.2" x2="420.5" y2="2687.7" stroke="#1a1a1a" stroke-width="3"/><line x1="407.5" y1="2698.2" x2="420.5" y2="2694.7" stroke="#1a1a1a" stroke-width="3"/><line x1="407.5" y1="2705.2" x2="420.5" y2="2701.7" stroke="#1a1a1a" stroke-width="3"/><line x1="407.5" y1="2712.2" x2="420.5" y2="2708.7" stroke="#1a1a1a" stroke-width="3"/><line x1="407.5" y1="2719.2" x2="420.5" y2="2715.7" stroke="#1a1a1a" stroke-width="3"/><line x1="407.5" y1="2726.2" x2="420.5" y2="2722.7" stroke="#1a1a1a" stroke-width="3"/><line x1="407.5" y1="2733.2" x2="420.5" y2="2729.7" stroke="#1a1a1a" stroke-width="3"/><line x1="407.5" y1="2740.2" x2="420.5" y2="2736.7" stroke="#1a1a1a" stroke-width="3"/><line x1="407.5" y1="2747.2" x2="420.5" y2="2743.7" stroke="#1a1a1a" stroke-width="3"/><line x1="407.5" y1="2754.2" x2="420.5" y2="2750.7" stroke="#1a1a1a" stroke-width="3"/><line x1="407.5" y1="2761.2" x2="420.5" y2="2757.7" stroke="#1a1a1a" stroke-width="3"/><line x1="407.5" y1="2768.2" x2="420.5" y2="2764.7" stroke="#1a1a1a" stroke-width="3"/><line x1="407.5" y1="2775.2" x2="420.5" y2="2771.7" stroke="#1a1a1a" stroke-width="3"/><line x1="407.5" y1="2782.2" x2="420.5" y2="2778.7" stroke="#1a1a1a" stroke-width="3"/><line x1="407.5" y1="2789.2" x2="420.5" y2="2785.7" stroke="#1a1a1a" stroke-width="3"/><line x1="407.5" y1="2796.2" x2="420.5" y2="2792.7" stroke="#1a1a1a" stroke-width="3"/><rect x="400.0" y="2640.19" width="28" height="16.48999999999978" rx="4" fill="#bbb" stroke="#000" stroke-width="4"/><path d="M405.0,2796.44 L423.0,2796.44 L433.0,2811 L431.0,2813 L397.0,2813 L395.0,2811 Z" fill="#9a9a9a" stroke="#000" stroke-width="4.5" stroke-linejoin="round"/></g>
<g><path d="M150.93,3007.0 L150.93,2972 Q150.93,2969 153.93,2969 L167.07,2969 Q170.07,2969 170.07,2972 L170.07,3007.0 Z" fill="#9a9a9a" stroke="#000" stroke-width="4.5" stroke-linejoin="round"/><path d="M157.5,2973 L161.5,2973 L159.5,3001.0 L155.5,3001.0 Z" fill="#e6e6e6"/><path d="M146,3011.0 Q146,3005.0 151,3005.0 L170,3005.0 Q175,3005.0 175,3011.0 L175,3044 Q175,3049 170,3049 L151,3049 Q146,3049 146,3044 Z" fill="#8c8c8c" stroke="#000" stroke-width="4.5" stroke-linejoin="round"/><rect x="149" y="3008.0" width="13.05" height="38.0" fill="#c8c8c8"/><line x1="149" y1="3008.0" x2="172" y2="3008.0" stroke="#000" stroke-width="3"/></g>
<text x="124" y="3114" font-family="Liberation Sans, sans-serif" font-size="62" font-weight="normal" text-anchor="start" textLength="151" lengthAdjust="spacingAndGlyphs" stroke="#000" stroke-width="1.5" stroke-linejoin="miter">TX25</text>
<rect x="84" y="1282" width="1087" height="1046" rx="12" fill="none" stroke="#000" stroke-width="20"/>
<rect x="1259" y="1293" width="1147" height="2110" rx="12" fill="none" stroke="#000" stroke-width="20"/>
<rect x="81" y="2397" width="1089" height="1020" rx="12" fill="none" stroke="#000" stroke-width="20"/>
</svg></body></html>
